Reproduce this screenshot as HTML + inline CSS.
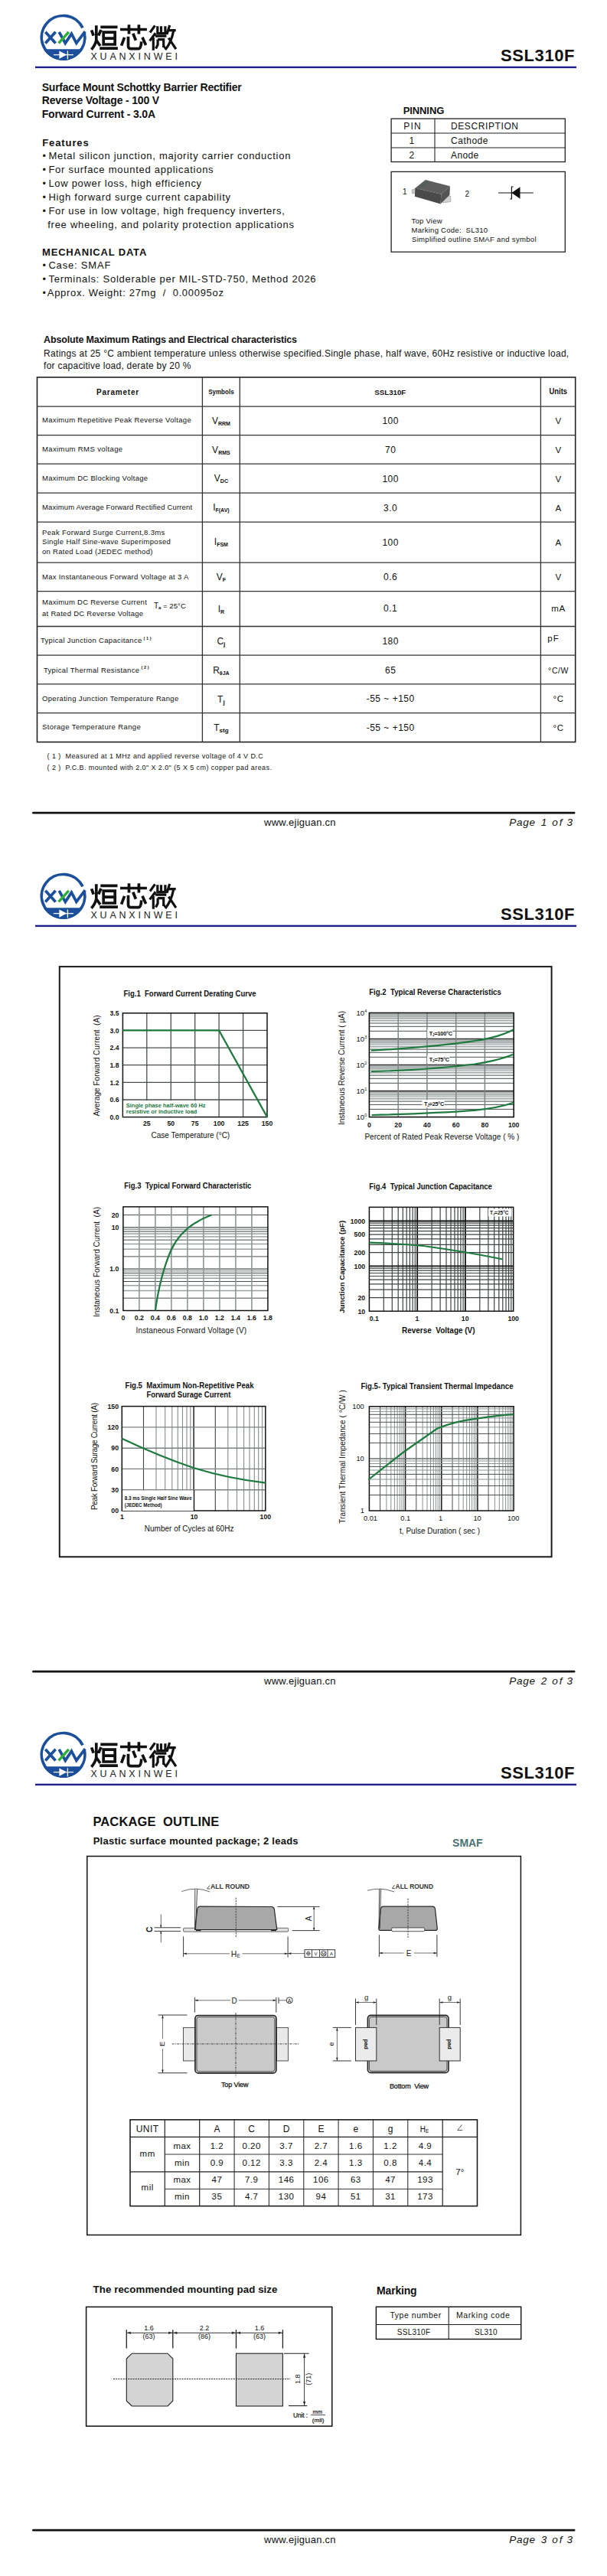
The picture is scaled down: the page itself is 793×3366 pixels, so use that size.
<!DOCTYPE html>
<html><head><meta charset="utf-8"><style>
html,body{margin:0;padding:0;background:#fff;}
svg{display:block;}
text{font-family:"Liberation Sans",sans-serif;}
</style></head><body>
<svg width="793" height="3366" viewBox="0 0 793 3366">
<rect x="0" y="0" width="793" height="3366" fill="#fff"/>
<g transform="translate(0,0)">
<path d="M110.28,42.92 A28.3,28.3 0 1 1 108.04,36.39" stroke="#1b4f9c" stroke-width="3.6" fill="none"/>
<path d="M56.80,64.3 A30.1,30.1 0 0 0 108.40,64.3 Z" fill="#1b4f9c"/>
<line x1="69.9" y1="71.6" x2="95.9" y2="71.6" stroke="#fff" stroke-width="1.3"/>
<path d="M77.4,66.6 L87.2,71.6 L77.4,76.8 Z" fill="#fff"/>
<line x1="88.4" y1="66.4" x2="88.4" y2="77.2" stroke="#fff" stroke-width="1.3"/>
<path d="M59.3,41.8 L72.6,56.4 M72.6,41.8 L59.3,56.4" stroke="#1b4f9c" stroke-width="3.7" fill="none"/>
<path d="M77.2,41.8 L85.3,56.4 L93.4,44.2 L99.8,56.4 L111.2,41.2" stroke="#1b4f9c" stroke-width="3.7" fill="none" stroke-linejoin="miter"/>
<path d="M89.8,41.8 L76.6,56.4" stroke="#2fae3c" stroke-width="3.5" fill="none"/>
<path d="M119.6,39.3 L122.2,46.6 M125.8,33.2 L125.8,52.5 Q124.5,59 119.4,64.7 M132,39.1 L128.7,46.5 M126.1,53 L131,60 M131.3,35.4 L153.5,35.4 M135.2,42.1 L150.2,42.1 L150.2,58 L135.2,58 Z M135.2,50.2 L150.2,50.2 M130.2,63.2 L153.9,63.2" stroke="#111" stroke-width="3.7" fill="none" stroke-linecap="butt"/>
<path d="M157,38.5 L191.9,38.5 M168.5,32.3 L168.5,44.5 M181.4,32.3 L181.4,44.5 M162.6,48.8 L158.6,59.6 M167.5,47.8 L167.5,60.3 Q167.8,63.6 171,63.6 L181,63.6 Q184.3,63.4 184.7,54.4 M173.8,43.8 L177.4,52.7 M186,48.8 L190.6,59" stroke="#111" stroke-width="3.7" fill="none" stroke-linecap="butt"/>
<path d="M202.5,33.4 L196,42.5 M203.2,43.2 L195.6,53.4 M200.3,49 L200.3,65.7 M205.8,34.2 L205.8,43.6 M210.5,34.2 L210.5,43.6 M215.9,34.2 L215.9,43.6 M204.4,43.6 L217.3,43.6 M202.9,47.2 L217.4,47.2 M206.1,51.6 L213.7,51.6 L213.7,62 M206.1,51.6 L206.1,58.5 L203.5,63.5 M213.7,62 L216,61 M221.7,33.1 L218,44.7 M220.3,39.6 L229.7,39.6 M226.5,41 Q224,55 215.9,65 M220.3,49.7 L229.9,64.2" stroke="#111" stroke-width="3.2" fill="none"/>
<text x="118.4" y="78.0" font-size="12.5" textLength="113.5" lengthAdjust="spacing" fill="#222" font-weight="normal">XUANXINWEI</text>
<rect x="46" y="86.7" width="707" height="2.4" fill="#1f2088"/>
<text x="654.0" y="79.6" font-size="22" font-weight="bold" textLength="96.5" lengthAdjust="spacing" fill="#111">SSL310F</text>
</g>
<g transform="translate(0,0)">
<line x1="43.5" y1="1062.2" x2="750" y2="1062.2" stroke="#111" stroke-width="2.8" stroke-linecap="round"/>
<text x="345.0" y="1079.0" font-size="13" textLength="93.5" lengthAdjust="spacing" fill="#111">www.ejiguan.cn</text>
<text x="665.2" y="1078.5" font-size="13.5" textLength="33.8" lengthAdjust="spacing" font-style="italic" fill="#111">Page</text>
<text x="706.8" y="1078.5" font-size="13.5" font-style="italic" fill="#111">1</text>
<text x="721.2" y="1078.5" font-size="13.5" textLength="13.2" lengthAdjust="spacing" font-style="italic" fill="#111">of</text>
<text x="740.6" y="1078.5" font-size="13.5" font-style="italic" fill="#111">3</text>
</g>
<g transform="translate(0,1122)">
<path d="M110.28,42.92 A28.3,28.3 0 1 1 108.04,36.39" stroke="#1b4f9c" stroke-width="3.6" fill="none"/>
<path d="M56.80,64.3 A30.1,30.1 0 0 0 108.40,64.3 Z" fill="#1b4f9c"/>
<line x1="69.9" y1="71.6" x2="95.9" y2="71.6" stroke="#fff" stroke-width="1.3"/>
<path d="M77.4,66.6 L87.2,71.6 L77.4,76.8 Z" fill="#fff"/>
<line x1="88.4" y1="66.4" x2="88.4" y2="77.2" stroke="#fff" stroke-width="1.3"/>
<path d="M59.3,41.8 L72.6,56.4 M72.6,41.8 L59.3,56.4" stroke="#1b4f9c" stroke-width="3.7" fill="none"/>
<path d="M77.2,41.8 L85.3,56.4 L93.4,44.2 L99.8,56.4 L111.2,41.2" stroke="#1b4f9c" stroke-width="3.7" fill="none" stroke-linejoin="miter"/>
<path d="M89.8,41.8 L76.6,56.4" stroke="#2fae3c" stroke-width="3.5" fill="none"/>
<path d="M119.6,39.3 L122.2,46.6 M125.8,33.2 L125.8,52.5 Q124.5,59 119.4,64.7 M132,39.1 L128.7,46.5 M126.1,53 L131,60 M131.3,35.4 L153.5,35.4 M135.2,42.1 L150.2,42.1 L150.2,58 L135.2,58 Z M135.2,50.2 L150.2,50.2 M130.2,63.2 L153.9,63.2" stroke="#111" stroke-width="3.7" fill="none" stroke-linecap="butt"/>
<path d="M157,38.5 L191.9,38.5 M168.5,32.3 L168.5,44.5 M181.4,32.3 L181.4,44.5 M162.6,48.8 L158.6,59.6 M167.5,47.8 L167.5,60.3 Q167.8,63.6 171,63.6 L181,63.6 Q184.3,63.4 184.7,54.4 M173.8,43.8 L177.4,52.7 M186,48.8 L190.6,59" stroke="#111" stroke-width="3.7" fill="none" stroke-linecap="butt"/>
<path d="M202.5,33.4 L196,42.5 M203.2,43.2 L195.6,53.4 M200.3,49 L200.3,65.7 M205.8,34.2 L205.8,43.6 M210.5,34.2 L210.5,43.6 M215.9,34.2 L215.9,43.6 M204.4,43.6 L217.3,43.6 M202.9,47.2 L217.4,47.2 M206.1,51.6 L213.7,51.6 L213.7,62 M206.1,51.6 L206.1,58.5 L203.5,63.5 M213.7,62 L216,61 M221.7,33.1 L218,44.7 M220.3,39.6 L229.7,39.6 M226.5,41 Q224,55 215.9,65 M220.3,49.7 L229.9,64.2" stroke="#111" stroke-width="3.2" fill="none"/>
<text x="118.4" y="78.0" font-size="12.5" textLength="113.5" lengthAdjust="spacing" fill="#222" font-weight="normal">XUANXINWEI</text>
<rect x="46" y="86.7" width="707" height="2.4" fill="#1f2088"/>
<text x="654.0" y="79.6" font-size="22" font-weight="bold" textLength="96.5" lengthAdjust="spacing" fill="#111">SSL310F</text>
</g>
<g transform="translate(0,1122)">
<line x1="43.5" y1="1062.2" x2="750" y2="1062.2" stroke="#111" stroke-width="2.8" stroke-linecap="round"/>
<text x="345.0" y="1079.0" font-size="13" textLength="93.5" lengthAdjust="spacing" fill="#111">www.ejiguan.cn</text>
<text x="665.2" y="1078.5" font-size="13.5" textLength="33.8" lengthAdjust="spacing" font-style="italic" fill="#111">Page</text>
<text x="706.8" y="1078.5" font-size="13.5" font-style="italic" fill="#111">2</text>
<text x="721.2" y="1078.5" font-size="13.5" textLength="13.2" lengthAdjust="spacing" font-style="italic" fill="#111">of</text>
<text x="740.6" y="1078.5" font-size="13.5" font-style="italic" fill="#111">3</text>
</g>
<g transform="translate(0,2244)">
<path d="M110.28,42.92 A28.3,28.3 0 1 1 108.04,36.39" stroke="#1b4f9c" stroke-width="3.6" fill="none"/>
<path d="M56.80,64.3 A30.1,30.1 0 0 0 108.40,64.3 Z" fill="#1b4f9c"/>
<line x1="69.9" y1="71.6" x2="95.9" y2="71.6" stroke="#fff" stroke-width="1.3"/>
<path d="M77.4,66.6 L87.2,71.6 L77.4,76.8 Z" fill="#fff"/>
<line x1="88.4" y1="66.4" x2="88.4" y2="77.2" stroke="#fff" stroke-width="1.3"/>
<path d="M59.3,41.8 L72.6,56.4 M72.6,41.8 L59.3,56.4" stroke="#1b4f9c" stroke-width="3.7" fill="none"/>
<path d="M77.2,41.8 L85.3,56.4 L93.4,44.2 L99.8,56.4 L111.2,41.2" stroke="#1b4f9c" stroke-width="3.7" fill="none" stroke-linejoin="miter"/>
<path d="M89.8,41.8 L76.6,56.4" stroke="#2fae3c" stroke-width="3.5" fill="none"/>
<path d="M119.6,39.3 L122.2,46.6 M125.8,33.2 L125.8,52.5 Q124.5,59 119.4,64.7 M132,39.1 L128.7,46.5 M126.1,53 L131,60 M131.3,35.4 L153.5,35.4 M135.2,42.1 L150.2,42.1 L150.2,58 L135.2,58 Z M135.2,50.2 L150.2,50.2 M130.2,63.2 L153.9,63.2" stroke="#111" stroke-width="3.7" fill="none" stroke-linecap="butt"/>
<path d="M157,38.5 L191.9,38.5 M168.5,32.3 L168.5,44.5 M181.4,32.3 L181.4,44.5 M162.6,48.8 L158.6,59.6 M167.5,47.8 L167.5,60.3 Q167.8,63.6 171,63.6 L181,63.6 Q184.3,63.4 184.7,54.4 M173.8,43.8 L177.4,52.7 M186,48.8 L190.6,59" stroke="#111" stroke-width="3.7" fill="none" stroke-linecap="butt"/>
<path d="M202.5,33.4 L196,42.5 M203.2,43.2 L195.6,53.4 M200.3,49 L200.3,65.7 M205.8,34.2 L205.8,43.6 M210.5,34.2 L210.5,43.6 M215.9,34.2 L215.9,43.6 M204.4,43.6 L217.3,43.6 M202.9,47.2 L217.4,47.2 M206.1,51.6 L213.7,51.6 L213.7,62 M206.1,51.6 L206.1,58.5 L203.5,63.5 M213.7,62 L216,61 M221.7,33.1 L218,44.7 M220.3,39.6 L229.7,39.6 M226.5,41 Q224,55 215.9,65 M220.3,49.7 L229.9,64.2" stroke="#111" stroke-width="3.2" fill="none"/>
<text x="118.4" y="78.0" font-size="12.5" textLength="113.5" lengthAdjust="spacing" fill="#222" font-weight="normal">XUANXINWEI</text>
<rect x="46" y="86.7" width="707" height="2.4" fill="#1f2088"/>
<text x="654.0" y="79.6" font-size="22" font-weight="bold" textLength="96.5" lengthAdjust="spacing" fill="#111">SSL310F</text>
</g>
<g transform="translate(0,2244)">
<line x1="43.5" y1="1062.2" x2="750" y2="1062.2" stroke="#111" stroke-width="2.8" stroke-linecap="round"/>
<text x="345.0" y="1079.0" font-size="13" textLength="93.5" lengthAdjust="spacing" fill="#111">www.ejiguan.cn</text>
<text x="665.2" y="1078.5" font-size="13.5" textLength="33.8" lengthAdjust="spacing" font-style="italic" fill="#111">Page</text>
<text x="706.8" y="1078.5" font-size="13.5" font-style="italic" fill="#111">3</text>
<text x="721.2" y="1078.5" font-size="13.5" textLength="13.2" lengthAdjust="spacing" font-style="italic" fill="#111">of</text>
<text x="740.6" y="1078.5" font-size="13.5" font-style="italic" fill="#111">3</text>
</g>
<text x="54.7" y="118.7" font-size="14" font-weight="bold" textLength="261.0" lengthAdjust="spacing" fill="#111">Surface Mount Schottky Barrier Rectifier</text>
<text x="54.7" y="136.2" font-size="14" font-weight="bold" textLength="153.5" lengthAdjust="spacing" fill="#111">Reverse Voltage - 100 V</text>
<text x="54.7" y="154.0" font-size="14" font-weight="bold" textLength="148.3" lengthAdjust="spacing" fill="#111">Forward Current - 3.0A</text>
<text x="55.2" y="191.0" font-size="13" font-weight="bold" textLength="60.5" lengthAdjust="spacing" fill="#111">Features</text>
<text x="55.5" y="207.8" font-size="12.5" fill="#111">•</text>
<text x="63.4" y="207.8" font-size="13" textLength="316.0" lengthAdjust="spacing" fill="#111">Metal silicon junction, majority carrier conduction</text>
<text x="55.5" y="225.8" font-size="12.5" fill="#111">•</text>
<text x="63.4" y="225.8" font-size="13" textLength="215.2" lengthAdjust="spacing" fill="#111">For surface mounted applications</text>
<text x="55.5" y="243.8" font-size="12.5" fill="#111">•</text>
<text x="63.4" y="243.8" font-size="13" textLength="199.7" lengthAdjust="spacing" fill="#111">Low power loss, high efficiency</text>
<text x="55.5" y="261.8" font-size="12.5" fill="#111">•</text>
<text x="63.4" y="261.8" font-size="13" textLength="237.6" lengthAdjust="spacing" fill="#111">High forward surge current capability</text>
<text x="55.5" y="279.8" font-size="12.5" fill="#111">•</text>
<text x="63.4" y="279.8" font-size="13" textLength="308.4" lengthAdjust="spacing" fill="#111">For use in low voltage, high frequency inverters,</text>
<text x="62.2" y="298.0" font-size="13" textLength="321.8" lengthAdjust="spacing" fill="#111">free wheeling, and polarity protection applications</text>
<text x="55.0" y="334.0" font-size="13" font-weight="bold" textLength="136.3" lengthAdjust="spacing" fill="#111">MECHANICAL DATA</text>
<text x="55.5" y="350.8" font-size="12.5" fill="#111">•</text>
<text x="63.4" y="350.8" font-size="13" textLength="81.0" lengthAdjust="spacing" fill="#111">Case: SMAF</text>
<text x="55.5" y="368.7" font-size="12.5" fill="#111">•</text>
<text x="63.4" y="368.7" font-size="13" textLength="349.2" lengthAdjust="spacing" fill="#111">Terminals: Solderable per MIL-STD-750, Method 2026</text>
<text x="55.5" y="386.6" font-size="12.5" fill="#111">•</text>
<text x="61.8" y="386.6" font-size="13" textLength="230.1" lengthAdjust="spacing" fill="#111">Approx. Weight: 27mg&#160;&#160;/&#160;&#160;0.00095oz</text>
<text x="526.7" y="148.5" font-size="13" font-weight="bold" textLength="53.6" lengthAdjust="spacing" fill="#111">PINNING</text>
<rect x="511.1" y="155.1" width="227.2" height="56.4" stroke="#222" stroke-width="1.3" fill="none" />
<line x1="511.1" y1="174.0" x2="738.3" y2="174.0" stroke="#222" stroke-width="1.1" />
<line x1="511.1" y1="193.0" x2="738.3" y2="193.0" stroke="#222" stroke-width="1.1" />
<line x1="568.0" y1="155.1" x2="568.0" y2="211.5" stroke="#222" stroke-width="1.1" />
<text x="527.2" y="169.0" font-size="12" textLength="22.5" lengthAdjust="spacing" fill="#111">PIN</text>
<text x="589.0" y="169.0" font-size="12" textLength="88.0" lengthAdjust="spacing" fill="#111">DESCRIPTION</text>
<text x="534.5" y="188.0" font-size="12" fill="#111">1</text>
<text x="589.0" y="188.0" font-size="12" textLength="48.5" lengthAdjust="spacing" fill="#111">Cathode</text>
<text x="534.5" y="206.5" font-size="12" fill="#111">2</text>
<text x="589.0" y="206.5" font-size="12" textLength="36.3" lengthAdjust="spacing" fill="#111">Anode</text>
<rect x="511.1" y="224.4" width="227.2" height="104.8" stroke="#222" stroke-width="1.3" fill="none" />
<text x="526.0" y="254.0" font-size="10" fill="#111">1</text>
<text x="607.5" y="257.0" font-size="10" fill="#111">2</text>
<text x="537.6" y="292.1" font-size="9.5" textLength="40.0" lengthAdjust="spacing" fill="#111">Top View</text>
<text x="537.6" y="304.2" font-size="9.5" textLength="99.5" lengthAdjust="spacing" fill="#111">Marking Code:&#160; SL310</text>
<text x="538.0" y="316.3" font-size="9.5" textLength="162.5" lengthAdjust="spacing" fill="#111">Simplified outline SMAF and symbol</text>
<path d="M538,248 L543,246.5 L543.5,252.5 L538.5,253 Z" fill="#c8c8c8" stroke="#999" stroke-width="0.6"/>
<path d="M578,256.5 L588.5,256 L589,263.5 L578.5,265 Z" fill="#d0d0d0" stroke="#999" stroke-width="0.6"/>
<path d="M555.8,234.9 L587.9,243.3 L576.5,253.7 L542.4,245.8 Z" fill="#5e5e5e"/>
<path d="M542.4,245.8 L576.5,253.7 L575.5,266.6 L541.9,256.7 Z" fill="#4a4a4a"/>
<path d="M576.5,253.7 L587.9,243.3 L587.4,254.7 L575.5,266.6 Z" fill="#545454"/>
<path d="M557,237 L545.5,246.5 M559.5,237.6 L548,247.2" stroke="#3e5e52" stroke-width="0.7"/>
<line x1="651.0" y1="252.0" x2="696.8" y2="252.0" stroke="#111" stroke-width="1.2" />
<path d="M668.4,252 L679.5,244.2 L679.5,259.8 Z" fill="#111"/>
<path d="M670.6,244 L668.4,244 L668.4,260 L666.3,260" stroke="#111" stroke-width="1.2" fill="none"/>
<text x="57.1" y="448.0" font-size="12.5" font-weight="bold" textLength="330.9" lengthAdjust="spacing" fill="#111">Absolute Maximum Ratings and Electrical characteristics</text>
<text x="57.1" y="466.2" font-size="12" textLength="686.1" lengthAdjust="spacing" fill="#111">Ratings at 25 °C ambient temperature unless otherwise specified.Single phase, half wave, 60Hz resistive or inductive load,</text>
<text x="57.1" y="481.7" font-size="12" textLength="192.3" lengthAdjust="spacing" fill="#111">for capacitive load, derate by 20 %</text>
<rect x="48.5" y="493.0" width="703.2" height="476.6" stroke="#222" stroke-width="1.6" fill="none" />
<line x1="48.5" y1="531.2" x2="751.7" y2="531.2" stroke="#333" stroke-width="1.3" />
<line x1="48.5" y1="568.6" x2="751.7" y2="568.6" stroke="#333" stroke-width="1.3" />
<line x1="48.5" y1="606.2" x2="751.7" y2="606.2" stroke="#333" stroke-width="1.3" />
<line x1="48.5" y1="644.2" x2="751.7" y2="644.2" stroke="#333" stroke-width="1.3" />
<line x1="48.5" y1="682.2" x2="751.7" y2="682.2" stroke="#333" stroke-width="1.3" />
<line x1="48.5" y1="735.2" x2="751.7" y2="735.2" stroke="#333" stroke-width="1.3" />
<line x1="48.5" y1="772.6" x2="751.7" y2="772.6" stroke="#333" stroke-width="1.3" />
<line x1="48.5" y1="818.5" x2="751.7" y2="818.5" stroke="#333" stroke-width="1.3" />
<line x1="48.5" y1="856.2" x2="751.7" y2="856.2" stroke="#333" stroke-width="1.3" />
<line x1="48.5" y1="893.9" x2="751.7" y2="893.9" stroke="#333" stroke-width="1.3" />
<line x1="48.5" y1="931.6" x2="751.7" y2="931.6" stroke="#333" stroke-width="1.3" />
<line x1="264.4" y1="493.0" x2="264.4" y2="969.6" stroke="#333" stroke-width="1.3" />
<line x1="313.3" y1="493.0" x2="313.3" y2="969.6" stroke="#333" stroke-width="1.3" />
<line x1="706.4" y1="493.0" x2="706.4" y2="969.6" stroke="#333" stroke-width="1.3" />
<text x="153.6" y="516.3" font-size="10" font-weight="bold" text-anchor="middle" textLength="55.0" lengthAdjust="spacing" fill="#111">Parameter</text>
<text x="288.9" y="514.8" font-size="9" font-weight="bold" text-anchor="middle" textLength="33.5" lengthAdjust="spacingAndGlyphs" fill="#111">Symbols</text>
<text x="509.8" y="515.9" font-size="9.5" font-weight="bold" text-anchor="middle" textLength="41.0" lengthAdjust="spacingAndGlyphs" fill="#111">SSL310F</text>
<text x="729.3" y="515.4" font-size="10" font-weight="bold" text-anchor="middle" textLength="23.5" lengthAdjust="spacingAndGlyphs" fill="#111">Units</text>
<text x="55.0" y="551.8" font-size="9.5" textLength="194.7" lengthAdjust="spacing" fill="#111">Maximum Repetitive Peak Reverse Voltage</text>
<text x="55.0" y="589.8" font-size="9.5" textLength="105.1" lengthAdjust="spacing" fill="#111">Maximum RMS voltage</text>
<text x="55.0" y="627.8" font-size="9.5" textLength="138.1" lengthAdjust="spacing" fill="#111">Maximum DC Blocking Voltage</text>
<text x="55.0" y="665.8" font-size="9.5" textLength="196.1" lengthAdjust="spacing" fill="#111">Maximum Average Forward Rectified Current</text>
<text x="55.0" y="698.7" font-size="9.5" textLength="160.3" lengthAdjust="spacing" fill="#111">Peak Forward Surge Current,8.3ms</text>
<text x="55.0" y="710.8" font-size="9.5" textLength="167.9" lengthAdjust="spacing" fill="#111">Single Half Sine-wave Superimposed</text>
<text x="55.0" y="723.5" font-size="9.5" textLength="144.4" lengthAdjust="spacing" fill="#111">on Rated Load (JEDEC method)</text>
<text x="55.0" y="756.7" font-size="9.5" textLength="191.4" lengthAdjust="spacing" fill="#111">Max Instantaneous Forward Voltage at 3 A</text>
<text x="55.0" y="790.3" font-size="9.5" textLength="136.8" lengthAdjust="spacing" fill="#111">Maximum DC Reverse Current</text>
<text x="55.0" y="804.7" font-size="9.5" textLength="132.1" lengthAdjust="spacing" fill="#111">at Rated DC Reverse Voltage</text>
<text x="52.9" y="840.3" font-size="9.5" textLength="132.4" lengthAdjust="spacing" fill="#111">Typical Junction Capacitance</text>
<text x="56.9" y="878.5" font-size="9.5" textLength="125.2" lengthAdjust="spacing" fill="#111">Typical Thermal Resistance</text>
<text x="55.0" y="915.8" font-size="9.5" textLength="178.3" lengthAdjust="spacing" fill="#111">Operating Junction Temperature Range</text>
<text x="55.0" y="952.8" font-size="9.5" textLength="128.8" lengthAdjust="spacing" fill="#111">Storage Temperature Range</text>
<text x="187.5" y="836.0" font-size="5.5" font-weight="bold" textLength="10.0" lengthAdjust="spacing" fill="#111">(&#160;1&#160;)</text>
<text x="184.5" y="874.0" font-size="5.5" font-weight="bold" textLength="10.0" lengthAdjust="spacing" fill="#111">(&#160;2&#160;)</text>
<text x="201.0" y="794.6" font-size="10" fill="#111">T</text>
<text x="207.0" y="796.2" font-size="6" font-weight="bold" fill="#111">a</text>
<text x="213.0" y="794.6" font-size="9.5" textLength="29.8" lengthAdjust="spacing" fill="#111">= 25°C</text>
<text x="288.9" y="553.5" text-anchor="middle" fill="#111" font-size="12">V<tspan font-size="7" font-weight="bold" dy="2.2">RRM</tspan></text>
<text x="288.9" y="591.5" text-anchor="middle" fill="#111" font-size="12">V<tspan font-size="7" font-weight="bold" dy="2.2">RMS</tspan></text>
<text x="288.9" y="629.0" text-anchor="middle" fill="#111" font-size="12">V<tspan font-size="7" font-weight="bold" dy="2.2">DC</tspan></text>
<text x="288.9" y="666.5" text-anchor="middle" fill="#111" font-size="12">I<tspan font-size="7" font-weight="bold" dy="2.2">F(AV)</tspan></text>
<text x="288.9" y="712.0" text-anchor="middle" fill="#111" font-size="12">I<tspan font-size="7" font-weight="bold" dy="2.2">FSM</tspan></text>
<text x="288.9" y="757.5" text-anchor="middle" fill="#111" font-size="12">V<tspan font-size="7" font-weight="bold" dy="2.2">F</tspan></text>
<text x="288.9" y="799.5" text-anchor="middle" fill="#111" font-size="12">I<tspan font-size="7" font-weight="bold" dy="2.2">R</tspan></text>
<text x="288.9" y="841.5" text-anchor="middle" fill="#111" font-size="12">C<tspan font-size="8" font-weight="bold" dy="2.2">j</tspan></text>
<text x="288.9" y="879.5" text-anchor="middle" fill="#111" font-size="12">R<tspan font-size="7" font-weight="bold" dy="2.2">θJA</tspan></text>
<text x="288.9" y="917.5" text-anchor="middle" fill="#111" font-size="12">T<tspan font-size="8" font-weight="bold" dy="2.2">j</tspan></text>
<text x="288.9" y="954.5" text-anchor="middle" fill="#111" font-size="12">T<tspan font-size="8" font-weight="bold" dy="2.2">stg</tspan></text>
<text x="510.2" y="553.8" font-size="12" text-anchor="middle" fill="#111" letter-spacing="0.5">100</text>
<text x="729.6" y="553.8" font-size="11.5" text-anchor="middle" fill="#111" letter-spacing="0.6">V</text>
<text x="510.2" y="591.5" font-size="12" text-anchor="middle" fill="#111" letter-spacing="0.5">70</text>
<text x="729.6" y="591.5" font-size="11.5" text-anchor="middle" fill="#111" letter-spacing="0.6">V</text>
<text x="510.2" y="629.6" font-size="12" text-anchor="middle" fill="#111" letter-spacing="0.5">100</text>
<text x="729.6" y="629.6" font-size="11.5" text-anchor="middle" fill="#111" letter-spacing="0.6">V</text>
<text x="510.2" y="667.6" font-size="12" text-anchor="middle" fill="#111" letter-spacing="0.5">3.0</text>
<text x="729.6" y="667.6" font-size="11.5" text-anchor="middle" fill="#111" letter-spacing="0.6">A</text>
<text x="510.2" y="713.0" font-size="12" text-anchor="middle" fill="#111" letter-spacing="0.5">100</text>
<text x="729.6" y="713.0" font-size="11.5" text-anchor="middle" fill="#111" letter-spacing="0.6">A</text>
<text x="510.2" y="758.4" font-size="12" text-anchor="middle" fill="#111" letter-spacing="0.5">0.6</text>
<text x="729.6" y="758.4" font-size="11.5" text-anchor="middle" fill="#111" letter-spacing="0.6">V</text>
<text x="510.2" y="799.4" font-size="12" text-anchor="middle" fill="#111" letter-spacing="0.5">0.1</text>
<text x="729.6" y="799.4" font-size="11.5" text-anchor="middle" fill="#111" letter-spacing="0.6">mA</text>
<text x="510.2" y="841.6" font-size="12" text-anchor="middle" fill="#111" letter-spacing="0.5">180</text>
<text x="510.2" y="879.8" font-size="12" text-anchor="middle" fill="#111" letter-spacing="0.5">65</text>
<text x="729.6" y="879.8" font-size="10.5" text-anchor="middle" fill="#111" letter-spacing="0.6">°C/W</text>
<text x="510.2" y="917.4" font-size="12" text-anchor="middle" fill="#111" letter-spacing="0.5">-55 ~ +150</text>
<text x="729.6" y="917.4" font-size="11.5" text-anchor="middle" fill="#111" letter-spacing="0.6">°C</text>
<text x="510.2" y="954.8" font-size="12" text-anchor="middle" fill="#111" letter-spacing="0.5">-55 ~ +150</text>
<text x="729.6" y="954.8" font-size="11.5" text-anchor="middle" fill="#111" letter-spacing="0.6">°C</text>
<text x="715.3" y="838.3" font-size="11.5" fill="#111" letter-spacing="1">pF</text>
<text x="61.6" y="991.4" font-size="9" textLength="282.1" lengthAdjust="spacing" fill="#111">(&#160;1&#160;)&#160; Measured at 1 MHz and applied reverse voltage of 4 V D.C</text>
<text x="61.6" y="1005.8" font-size="9" textLength="293.3" lengthAdjust="spacing" fill="#111">(&#160;2&#160;)&#160; P.C.B. mounted with 2.0" X 2.0" (5 X 5 cm) copper pad areas.</text>
<rect x="77.8" y="1263.1" width="642.8" height="771.2" stroke="#1a1a1a" stroke-width="2" fill="none" />
<line x1="191.8" y1="1323.8" x2="191.8" y2="1459.6" stroke="#48504d" stroke-width="1.3" />
<line x1="223.3" y1="1323.8" x2="223.3" y2="1459.6" stroke="#48504d" stroke-width="1.3" />
<line x1="254.7" y1="1323.8" x2="254.7" y2="1459.6" stroke="#48504d" stroke-width="1.3" />
<line x1="286.1" y1="1323.8" x2="286.1" y2="1459.6" stroke="#48504d" stroke-width="1.3" />
<line x1="317.6" y1="1323.8" x2="317.6" y2="1459.6" stroke="#48504d" stroke-width="1.3" />
<line x1="160.4" y1="1346.4" x2="349.0" y2="1346.4" stroke="#48504d" stroke-width="1.3" />
<line x1="160.4" y1="1369.1" x2="349.0" y2="1369.1" stroke="#48504d" stroke-width="1.3" />
<line x1="160.4" y1="1391.7" x2="349.0" y2="1391.7" stroke="#48504d" stroke-width="1.3" />
<line x1="160.4" y1="1414.3" x2="349.0" y2="1414.3" stroke="#48504d" stroke-width="1.3" />
<line x1="160.4" y1="1437.0" x2="349.0" y2="1437.0" stroke="#48504d" stroke-width="1.3" />
<rect x="160.4" y="1323.8" width="188.6" height="135.8" stroke="#111" stroke-width="1.5" fill="none" />
<path d="M160.4,1346.4 L286.1,1346.4 L349.0,1459.6" stroke="#1f7a3f" stroke-width="2.2" fill="none" />
<rect x="161.2" y="1438.2" width="94.4" height="20.5" stroke="none" stroke-width="0" fill="#fff" />
<text x="161.5" y="1301.5" font-size="10" font-weight="bold" textLength="173.0" lengthAdjust="spacingAndGlyphs" fill="#111">Fig.1&#160; Forward Current Derating Curve</text>
<text x="155.5" y="1327.0" font-size="8.7" font-weight="bold" text-anchor="end" fill="#111">3.5</text>
<text x="155.5" y="1349.6" font-size="8.7" font-weight="bold" text-anchor="end" fill="#111">3.0</text>
<text x="155.5" y="1372.3" font-size="8.7" font-weight="bold" text-anchor="end" fill="#111">2.4</text>
<text x="155.5" y="1394.9" font-size="8.7" font-weight="bold" text-anchor="end" fill="#111">1.8</text>
<text x="155.5" y="1417.5" font-size="8.7" font-weight="bold" text-anchor="end" fill="#111">1.2</text>
<text x="155.5" y="1440.2" font-size="8.7" font-weight="bold" text-anchor="end" fill="#111">0.6</text>
<text x="155.5" y="1462.8" font-size="8.7" font-weight="bold" text-anchor="end" fill="#111">0.0</text>
<text x="191.8" y="1470.7" font-size="8.7" font-weight="bold" text-anchor="middle" fill="#111">25</text>
<text x="223.3" y="1470.7" font-size="8.7" font-weight="bold" text-anchor="middle" fill="#111">50</text>
<text x="254.7" y="1470.7" font-size="8.7" font-weight="bold" text-anchor="middle" fill="#111">75</text>
<text x="286.1" y="1470.7" font-size="8.7" font-weight="bold" text-anchor="middle" fill="#111">100</text>
<text x="317.6" y="1470.7" font-size="8.7" font-weight="bold" text-anchor="middle" fill="#111">125</text>
<text x="349.0" y="1470.7" font-size="8.7" font-weight="bold" text-anchor="middle" fill="#111">150</text>
<text x="164.8" y="1446.5" font-size="7.5" font-weight="bold" textLength="103.8" lengthAdjust="spacing" fill="#1f7a3f">Single phase half-wave 60 Hz</text>
<text x="164.8" y="1454.9" font-size="7.5" font-weight="bold" textLength="92.6" lengthAdjust="spacing" fill="#1f7a3f">resistive or inductive load</text>
<text x="197.6" y="1487.2" font-size="10" textLength="102.6" lengthAdjust="spacing" fill="#111">Case Temperature (°C)</text>
<text x="0" y="0" font-size="10" text-anchor="middle" fill="#111" transform="translate(129.5,1392.5) rotate(-90)" textLength="132.0" lengthAdjust="spacing">Average Forward Current&#160; (A)</text>
<line x1="482.4" y1="1449.4" x2="671.2" y2="1449.4" stroke="#48504d" stroke-width="1.0" />
<line x1="482.4" y1="1443.4" x2="671.2" y2="1443.4" stroke="#48504d" stroke-width="1.0" />
<line x1="482.4" y1="1439.1" x2="671.2" y2="1439.1" stroke="#48504d" stroke-width="1.0" />
<line x1="482.4" y1="1435.8" x2="671.2" y2="1435.8" stroke="#9aa2a2" stroke-width="1.4" />
<line x1="482.4" y1="1433.1" x2="671.2" y2="1433.1" stroke="#9aa2a2" stroke-width="1.4" />
<line x1="482.4" y1="1430.8" x2="671.2" y2="1430.8" stroke="#9aa2a2" stroke-width="1.4" />
<line x1="482.4" y1="1428.9" x2="671.2" y2="1428.9" stroke="#9aa2a2" stroke-width="1.4" />
<line x1="482.4" y1="1427.1" x2="671.2" y2="1427.1" stroke="#9aa2a2" stroke-width="1.4" />
<line x1="482.4" y1="1415.3" x2="671.2" y2="1415.3" stroke="#48504d" stroke-width="1.0" />
<line x1="482.4" y1="1409.3" x2="671.2" y2="1409.3" stroke="#48504d" stroke-width="1.0" />
<line x1="482.4" y1="1405.1" x2="671.2" y2="1405.1" stroke="#48504d" stroke-width="1.0" />
<line x1="482.4" y1="1401.8" x2="671.2" y2="1401.8" stroke="#9aa2a2" stroke-width="1.4" />
<line x1="482.4" y1="1399.1" x2="671.2" y2="1399.1" stroke="#9aa2a2" stroke-width="1.4" />
<line x1="482.4" y1="1396.8" x2="671.2" y2="1396.8" stroke="#9aa2a2" stroke-width="1.4" />
<line x1="482.4" y1="1394.8" x2="671.2" y2="1394.8" stroke="#9aa2a2" stroke-width="1.4" />
<line x1="482.4" y1="1393.1" x2="671.2" y2="1393.1" stroke="#9aa2a2" stroke-width="1.4" />
<line x1="482.4" y1="1381.3" x2="671.2" y2="1381.3" stroke="#48504d" stroke-width="1.0" />
<line x1="482.4" y1="1375.3" x2="671.2" y2="1375.3" stroke="#48504d" stroke-width="1.0" />
<line x1="482.4" y1="1371.1" x2="671.2" y2="1371.1" stroke="#48504d" stroke-width="1.0" />
<line x1="482.4" y1="1367.8" x2="671.2" y2="1367.8" stroke="#9aa2a2" stroke-width="1.4" />
<line x1="482.4" y1="1365.1" x2="671.2" y2="1365.1" stroke="#9aa2a2" stroke-width="1.4" />
<line x1="482.4" y1="1362.8" x2="671.2" y2="1362.8" stroke="#9aa2a2" stroke-width="1.4" />
<line x1="482.4" y1="1360.8" x2="671.2" y2="1360.8" stroke="#9aa2a2" stroke-width="1.4" />
<line x1="482.4" y1="1359.1" x2="671.2" y2="1359.1" stroke="#9aa2a2" stroke-width="1.4" />
<line x1="482.4" y1="1347.3" x2="671.2" y2="1347.3" stroke="#48504d" stroke-width="1.0" />
<line x1="482.4" y1="1341.3" x2="671.2" y2="1341.3" stroke="#48504d" stroke-width="1.0" />
<line x1="482.4" y1="1337.0" x2="671.2" y2="1337.0" stroke="#48504d" stroke-width="1.0" />
<line x1="482.4" y1="1333.7" x2="671.2" y2="1333.7" stroke="#9aa2a2" stroke-width="1.4" />
<line x1="482.4" y1="1331.0" x2="671.2" y2="1331.0" stroke="#9aa2a2" stroke-width="1.4" />
<line x1="482.4" y1="1328.8" x2="671.2" y2="1328.8" stroke="#9aa2a2" stroke-width="1.4" />
<line x1="482.4" y1="1326.8" x2="671.2" y2="1326.8" stroke="#9aa2a2" stroke-width="1.4" />
<line x1="482.4" y1="1325.1" x2="671.2" y2="1325.1" stroke="#9aa2a2" stroke-width="1.4" />
<line x1="482.4" y1="1425.6" x2="671.2" y2="1425.6" stroke="#333" stroke-width="1.6" />
<line x1="482.4" y1="1391.5" x2="671.2" y2="1391.5" stroke="#333" stroke-width="1.6" />
<line x1="482.4" y1="1357.5" x2="671.2" y2="1357.5" stroke="#333" stroke-width="1.6" />
<line x1="520.2" y1="1323.5" x2="520.2" y2="1459.6" stroke="#7d8685" stroke-width="1.5" />
<line x1="557.9" y1="1323.5" x2="557.9" y2="1459.6" stroke="#7d8685" stroke-width="1.5" />
<line x1="595.7" y1="1323.5" x2="595.7" y2="1459.6" stroke="#7d8685" stroke-width="1.5" />
<line x1="633.4" y1="1323.5" x2="633.4" y2="1459.6" stroke="#7d8685" stroke-width="1.5" />
<rect x="482.4" y="1323.5" width="188.8" height="136.1" stroke="#111" stroke-width="1.6" fill="none" />
<path d="M484.8,1372.7 C530,1370.2 580,1366.2 620,1360.2 C645,1356.2 660,1351.2 671,1345.2" stroke="#1f7a3f" stroke-width="2.2" fill="none" />
<path d="M484.8,1400.0 C530,1399.0 580,1395.5 620,1390.5 C645,1386.5 660,1382.5 671,1377.5" stroke="#1f7a3f" stroke-width="2.2" fill="none" />
<path d="M485.7,1457.0 C530,1455.8 580,1453.8 620,1450.8 C645,1448.3 660,1444.8 671,1440.8" stroke="#1f7a3f" stroke-width="2.2" fill="none" />
<rect x="558.3" y="1345.3" width="33.0" height="10.0" stroke="none" stroke-width="0" fill="#fff" />
<text x="560.8" y="1352.8" font-size="7.3" font-weight="bold" fill="#111" letter-spacing="-0.2">T<tspan font-size="4.5" dy="1">J</tspan><tspan dy="-1">=100°C</tspan></text>
<rect x="558.3" y="1379.3" width="29.0" height="10.0" stroke="none" stroke-width="0" fill="#fff" />
<text x="560.8" y="1386.8" font-size="7.3" font-weight="bold" fill="#111" letter-spacing="-0.2">T<tspan font-size="4.5" dy="1">J</tspan><tspan dy="-1">=75°C</tspan></text>
<rect x="551.5" y="1437.3" width="29.0" height="10.0" stroke="none" stroke-width="0" fill="#fff" />
<text x="554.0" y="1444.8" font-size="7.3" font-weight="bold" fill="#111" letter-spacing="-0.2">T<tspan font-size="4.5" dy="1">J</tspan><tspan dy="-1">=25°C</tspan></text>
<text x="482.2" y="1300.0" font-size="10" font-weight="bold" textLength="172.6" lengthAdjust="spacingAndGlyphs" fill="#111">Fig.2&#160; Typical Reverse Characteristics</text>
<text x="465.4" y="1463.1" font-size="9.5" fill="#111">10<tspan font-size="5.5" dy="-4.2" dx="0.2">0</tspan></text>
<text x="465.4" y="1429.1" font-size="9.5" fill="#111">10<tspan font-size="5.5" dy="-4.2" dx="0.2">1</tspan></text>
<text x="465.4" y="1395.0" font-size="9.5" fill="#111">10<tspan font-size="5.5" dy="-4.2" dx="0.2">2</tspan></text>
<text x="465.4" y="1361.0" font-size="9.5" fill="#111">10<tspan font-size="5.5" dy="-4.2" dx="0.2">3</tspan></text>
<text x="465.4" y="1327.0" font-size="9.5" fill="#111">10<tspan font-size="5.5" dy="-4.2" dx="0.2">4</tspan></text>
<text x="482.4" y="1473.4" font-size="8.7" font-weight="bold" text-anchor="middle" fill="#111">0</text>
<text x="520.2" y="1473.4" font-size="8.7" font-weight="bold" text-anchor="middle" fill="#111">20</text>
<text x="557.9" y="1473.4" font-size="8.7" font-weight="bold" text-anchor="middle" fill="#111">40</text>
<text x="595.7" y="1473.4" font-size="8.7" font-weight="bold" text-anchor="middle" fill="#111">60</text>
<text x="633.4" y="1473.4" font-size="8.7" font-weight="bold" text-anchor="middle" fill="#111">80</text>
<text x="671.2" y="1473.4" font-size="8.7" font-weight="bold" text-anchor="middle" fill="#111">100</text>
<text x="476.4" y="1488.8" font-size="10" textLength="202.0" lengthAdjust="spacing" fill="#111">Percent of Rated Peak Reverse Voltage ( % )</text>
<text x="0" y="0" font-size="10" text-anchor="middle" fill="#111" transform="translate(450.0,1395.5) rotate(-90)" textLength="149.0" lengthAdjust="spacing">Instaneous Reverse Current ( μA)</text>
<line x1="160.9" y1="1696.2" x2="349.9" y2="1696.2" stroke="#48504d" stroke-width="1.0" />
<line x1="160.9" y1="1686.6" x2="349.9" y2="1686.6" stroke="#9aa2a2" stroke-width="1.5" />
<line x1="160.9" y1="1679.8" x2="349.9" y2="1679.8" stroke="#9aa2a2" stroke-width="1.5" />
<line x1="160.9" y1="1674.5" x2="349.9" y2="1674.5" stroke="#48504d" stroke-width="1.0" />
<line x1="160.9" y1="1670.2" x2="349.9" y2="1670.2" stroke="#9aa2a2" stroke-width="1.5" />
<line x1="160.9" y1="1666.6" x2="349.9" y2="1666.6" stroke="#9aa2a2" stroke-width="1.5" />
<line x1="160.9" y1="1663.5" x2="349.9" y2="1663.5" stroke="#48504d" stroke-width="1.0" />
<line x1="160.9" y1="1660.7" x2="349.9" y2="1660.7" stroke="#9aa2a2" stroke-width="1.5" />
<line x1="160.9" y1="1641.9" x2="349.9" y2="1641.9" stroke="#48504d" stroke-width="1.0" />
<line x1="160.9" y1="1632.3" x2="349.9" y2="1632.3" stroke="#9aa2a2" stroke-width="1.5" />
<line x1="160.9" y1="1625.5" x2="349.9" y2="1625.5" stroke="#9aa2a2" stroke-width="1.5" />
<line x1="160.9" y1="1620.2" x2="349.9" y2="1620.2" stroke="#48504d" stroke-width="1.0" />
<line x1="160.9" y1="1615.9" x2="349.9" y2="1615.9" stroke="#9aa2a2" stroke-width="1.5" />
<line x1="160.9" y1="1612.3" x2="349.9" y2="1612.3" stroke="#9aa2a2" stroke-width="1.5" />
<line x1="160.9" y1="1609.2" x2="349.9" y2="1609.2" stroke="#48504d" stroke-width="1.0" />
<line x1="160.9" y1="1606.4" x2="349.9" y2="1606.4" stroke="#9aa2a2" stroke-width="1.5" />
<line x1="160.9" y1="1658.2" x2="349.9" y2="1658.2" stroke="#48504d" stroke-width="1.3" />
<line x1="160.9" y1="1603.9" x2="349.9" y2="1603.9" stroke="#48504d" stroke-width="1.3" />
<line x1="160.9" y1="1587.6" x2="349.9" y2="1587.6" stroke="#48504d" stroke-width="1.0" />
<line x1="181.9" y1="1576.9" x2="181.9" y2="1712.5" stroke="#8d9696" stroke-width="1.6" />
<line x1="202.9" y1="1576.9" x2="202.9" y2="1712.5" stroke="#8d9696" stroke-width="1.6" />
<line x1="223.9" y1="1576.9" x2="223.9" y2="1712.5" stroke="#8d9696" stroke-width="1.6" />
<line x1="244.9" y1="1576.9" x2="244.9" y2="1712.5" stroke="#8d9696" stroke-width="1.6" />
<line x1="265.9" y1="1576.9" x2="265.9" y2="1712.5" stroke="#8d9696" stroke-width="1.6" />
<line x1="286.9" y1="1576.9" x2="286.9" y2="1712.5" stroke="#8d9696" stroke-width="1.6" />
<line x1="307.9" y1="1576.9" x2="307.9" y2="1712.5" stroke="#8d9696" stroke-width="1.6" />
<line x1="328.9" y1="1576.9" x2="328.9" y2="1712.5" stroke="#8d9696" stroke-width="1.6" />
<rect x="160.9" y="1576.9" width="189.0" height="135.6" stroke="#111" stroke-width="1.5" fill="none" />
<path d="M202.9,1712.5 C206,1690 212,1660 223.5,1633.5 C232,1615 248,1598 276.4,1587.5" stroke="#1f7a3f" stroke-width="2.2" fill="none" />
<text x="162.2" y="1553.0" font-size="10" font-weight="bold" textLength="166.2" lengthAdjust="spacingAndGlyphs" fill="#111">Fig.3&#160; Typical Forward Characteristic</text>
<text x="155.3" y="1590.8" font-size="8.7" font-weight="bold" text-anchor="end" fill="#111">20</text>
<text x="155.3" y="1607.1" font-size="8.7" font-weight="bold" text-anchor="end" fill="#111">10</text>
<text x="155.3" y="1661.4" font-size="8.7" font-weight="bold" text-anchor="end" fill="#111">1.0</text>
<text x="155.3" y="1715.7" font-size="8.7" font-weight="bold" text-anchor="end" fill="#111">0.1</text>
<text x="160.9" y="1725.0" font-size="8.7" font-weight="bold" text-anchor="middle" fill="#111">0</text>
<text x="181.9" y="1725.0" font-size="8.7" font-weight="bold" text-anchor="middle" fill="#111">0.2</text>
<text x="202.9" y="1725.0" font-size="8.7" font-weight="bold" text-anchor="middle" fill="#111">0.4</text>
<text x="223.9" y="1725.0" font-size="8.7" font-weight="bold" text-anchor="middle" fill="#111">0.6</text>
<text x="244.9" y="1725.0" font-size="8.7" font-weight="bold" text-anchor="middle" fill="#111">0.8</text>
<text x="265.9" y="1725.0" font-size="8.7" font-weight="bold" text-anchor="middle" fill="#111">1.0</text>
<text x="286.9" y="1725.0" font-size="8.7" font-weight="bold" text-anchor="middle" fill="#111">1.2</text>
<text x="307.9" y="1725.0" font-size="8.7" font-weight="bold" text-anchor="middle" fill="#111">1.4</text>
<text x="328.9" y="1725.0" font-size="8.7" font-weight="bold" text-anchor="middle" fill="#111">1.6</text>
<text x="349.9" y="1725.0" font-size="8.7" font-weight="bold" text-anchor="middle" fill="#111">1.8</text>
<text x="177.6" y="1742.2" font-size="10" textLength="144.6" lengthAdjust="spacing" fill="#111">Instaneous Forward Voltage (V)</text>
<text x="0" y="0" font-size="10" text-anchor="middle" fill="#111" transform="translate(129.5,1649.0) rotate(-90)" textLength="144.0" lengthAdjust="spacing">Instaneous Forward Current&#160; (A)</text>
<line x1="501.3" y1="1577.4" x2="501.3" y2="1713.3" stroke="#3d4442" stroke-width="1.2" />
<line x1="512.3" y1="1577.4" x2="512.3" y2="1713.3" stroke="#3d4442" stroke-width="1.2" />
<line x1="520.2" y1="1577.4" x2="520.2" y2="1713.3" stroke="#3d4442" stroke-width="1.2" />
<line x1="526.3" y1="1577.4" x2="526.3" y2="1713.3" stroke="#3d4442" stroke-width="1.2" />
<line x1="531.2" y1="1577.4" x2="531.2" y2="1713.3" stroke="#3d4442" stroke-width="1.2" />
<line x1="535.4" y1="1577.4" x2="535.4" y2="1713.3" stroke="#3d4442" stroke-width="1.2" />
<line x1="539.1" y1="1577.4" x2="539.1" y2="1713.3" stroke="#3d4442" stroke-width="1.2" />
<line x1="542.3" y1="1577.4" x2="542.3" y2="1713.3" stroke="#3d4442" stroke-width="1.2" />
<line x1="564.1" y1="1577.4" x2="564.1" y2="1713.3" stroke="#3d4442" stroke-width="1.2" />
<line x1="575.1" y1="1577.4" x2="575.1" y2="1713.3" stroke="#3d4442" stroke-width="1.2" />
<line x1="583.0" y1="1577.4" x2="583.0" y2="1713.3" stroke="#3d4442" stroke-width="1.2" />
<line x1="589.0" y1="1577.4" x2="589.0" y2="1713.3" stroke="#3d4442" stroke-width="1.2" />
<line x1="594.0" y1="1577.4" x2="594.0" y2="1713.3" stroke="#3d4442" stroke-width="1.2" />
<line x1="598.2" y1="1577.4" x2="598.2" y2="1713.3" stroke="#3d4442" stroke-width="1.2" />
<line x1="601.9" y1="1577.4" x2="601.9" y2="1713.3" stroke="#3d4442" stroke-width="1.2" />
<line x1="605.1" y1="1577.4" x2="605.1" y2="1713.3" stroke="#3d4442" stroke-width="1.2" />
<line x1="626.8" y1="1577.4" x2="626.8" y2="1713.3" stroke="#3d4442" stroke-width="1.2" />
<line x1="637.9" y1="1577.4" x2="637.9" y2="1713.3" stroke="#3d4442" stroke-width="1.2" />
<line x1="645.7" y1="1577.4" x2="645.7" y2="1713.3" stroke="#3d4442" stroke-width="1.2" />
<line x1="651.8" y1="1577.4" x2="651.8" y2="1713.3" stroke="#3d4442" stroke-width="1.2" />
<line x1="656.8" y1="1577.4" x2="656.8" y2="1713.3" stroke="#3d4442" stroke-width="1.2" />
<line x1="661.0" y1="1577.4" x2="661.0" y2="1713.3" stroke="#3d4442" stroke-width="1.2" />
<line x1="664.6" y1="1577.4" x2="664.6" y2="1713.3" stroke="#3d4442" stroke-width="1.2" />
<line x1="667.8" y1="1577.4" x2="667.8" y2="1713.3" stroke="#3d4442" stroke-width="1.2" />
<line x1="545.2" y1="1577.4" x2="545.2" y2="1713.3" stroke="#111" stroke-width="1.8" />
<line x1="607.9" y1="1577.4" x2="607.9" y2="1713.3" stroke="#111" stroke-width="1.8" />
<line x1="482.4" y1="1695.6" x2="670.7" y2="1695.6" stroke="#3d4442" stroke-width="1.2" />
<line x1="482.4" y1="1685.2" x2="670.7" y2="1685.2" stroke="#3d4442" stroke-width="1.2" />
<line x1="482.4" y1="1677.8" x2="670.7" y2="1677.8" stroke="#3d4442" stroke-width="1.2" />
<line x1="482.4" y1="1672.1" x2="670.7" y2="1672.1" stroke="#3d4442" stroke-width="1.2" />
<line x1="482.4" y1="1667.5" x2="670.7" y2="1667.5" stroke="#3d4442" stroke-width="1.2" />
<line x1="482.4" y1="1663.5" x2="670.7" y2="1663.5" stroke="#3d4442" stroke-width="1.2" />
<line x1="482.4" y1="1660.1" x2="670.7" y2="1660.1" stroke="#3d4442" stroke-width="1.2" />
<line x1="482.4" y1="1657.1" x2="670.7" y2="1657.1" stroke="#3d4442" stroke-width="1.2" />
<line x1="482.4" y1="1636.7" x2="670.7" y2="1636.7" stroke="#3d4442" stroke-width="1.2" />
<line x1="482.4" y1="1626.3" x2="670.7" y2="1626.3" stroke="#3d4442" stroke-width="1.2" />
<line x1="482.4" y1="1618.9" x2="670.7" y2="1618.9" stroke="#3d4442" stroke-width="1.2" />
<line x1="482.4" y1="1613.2" x2="670.7" y2="1613.2" stroke="#3d4442" stroke-width="1.2" />
<line x1="482.4" y1="1608.6" x2="670.7" y2="1608.6" stroke="#3d4442" stroke-width="1.2" />
<line x1="482.4" y1="1604.6" x2="670.7" y2="1604.6" stroke="#3d4442" stroke-width="1.2" />
<line x1="482.4" y1="1601.2" x2="670.7" y2="1601.2" stroke="#3d4442" stroke-width="1.2" />
<line x1="482.4" y1="1598.2" x2="670.7" y2="1598.2" stroke="#3d4442" stroke-width="1.2" />
<line x1="482.4" y1="1654.4" x2="670.7" y2="1654.4" stroke="#111" stroke-width="1.8" />
<line x1="482.4" y1="1595.5" x2="670.7" y2="1595.5" stroke="#111" stroke-width="1.8" />
<rect x="482.4" y="1577.4" width="188.3" height="135.9" stroke="#111" stroke-width="1.5" fill="none" />
<rect x="638.0" y="1579.5" width="30.0" height="10.0" stroke="none" stroke-width="0" fill="#fff" />
<text x="639.9" y="1587.0" font-size="6.5" font-weight="bold" fill="#111">T<tspan font-size="4" dy="1">J</tspan><tspan dy="-1">=25°C</tspan></text>
<path d="M482.4,1623.7 C520,1625 540,1626 560,1629 C590,1633 620,1638 657,1645.5" stroke="#1f7a3f" stroke-width="2.2" fill="none" />
<text x="482.2" y="1554.3" font-size="10" font-weight="bold" textLength="160.6" lengthAdjust="spacingAndGlyphs" fill="#111">Fig.4&#160; Typical Junction Capacitance</text>
<text x="477.1" y="1598.7" font-size="8.7" font-weight="bold" text-anchor="end" fill="#111">1000</text>
<text x="477.1" y="1616.4" font-size="8.7" font-weight="bold" text-anchor="end" fill="#111">500</text>
<text x="477.1" y="1639.9" font-size="8.7" font-weight="bold" text-anchor="end" fill="#111">200</text>
<text x="477.1" y="1657.6" font-size="8.7" font-weight="bold" text-anchor="end" fill="#111">100</text>
<text x="477.1" y="1698.8" font-size="8.7" font-weight="bold" text-anchor="end" fill="#111">20</text>
<text x="477.1" y="1716.5" font-size="8.7" font-weight="bold" text-anchor="end" fill="#111">10</text>
<text x="488.7" y="1725.6" font-size="8.7" font-weight="bold" text-anchor="middle" fill="#111">0.1</text>
<text x="544.8" y="1725.6" font-size="8.7" font-weight="bold" text-anchor="middle" fill="#111">1</text>
<text x="607.7" y="1725.6" font-size="8.7" font-weight="bold" text-anchor="middle" fill="#111">10</text>
<text x="670.7" y="1725.6" font-size="8.7" font-weight="bold" text-anchor="middle" fill="#111">100</text>
<text x="525.0" y="1741.9" font-size="10" font-weight="bold" textLength="95.6" lengthAdjust="spacing" fill="#111">Reverse&#160; Voltage (V)</text>
<text x="0" y="0" font-size="9.6" text-anchor="middle" fill="#111" transform="translate(450.2,1655.3) rotate(-90)" font-weight="bold" textLength="121.0" lengthAdjust="spacing">Junction Capacitance (pF)</text>
<line x1="187.5" y1="1837.6" x2="187.5" y2="1974.0" stroke="#3d4442" stroke-width="1.1" />
<line x1="204.0" y1="1837.6" x2="204.0" y2="1974.0" stroke="#858c8b" stroke-width="1.1" />
<line x1="215.7" y1="1837.6" x2="215.7" y2="1974.0" stroke="#858c8b" stroke-width="1.1" />
<line x1="224.8" y1="1837.6" x2="224.8" y2="1974.0" stroke="#858c8b" stroke-width="1.1" />
<line x1="232.3" y1="1837.6" x2="232.3" y2="1974.0" stroke="#858c8b" stroke-width="1.1" />
<line x1="238.5" y1="1837.6" x2="238.5" y2="1974.0" stroke="#858c8b" stroke-width="1.1" />
<line x1="244.0" y1="1837.6" x2="244.0" y2="1974.0" stroke="#858c8b" stroke-width="1.1" />
<line x1="248.8" y1="1837.6" x2="248.8" y2="1974.0" stroke="#858c8b" stroke-width="1.1" />
<line x1="281.3" y1="1837.6" x2="281.3" y2="1974.0" stroke="#3d4442" stroke-width="1.1" />
<line x1="297.8" y1="1837.6" x2="297.8" y2="1974.0" stroke="#858c8b" stroke-width="1.1" />
<line x1="309.5" y1="1837.6" x2="309.5" y2="1974.0" stroke="#858c8b" stroke-width="1.1" />
<line x1="318.6" y1="1837.6" x2="318.6" y2="1974.0" stroke="#858c8b" stroke-width="1.1" />
<line x1="326.0" y1="1837.6" x2="326.0" y2="1974.0" stroke="#858c8b" stroke-width="1.1" />
<line x1="332.3" y1="1837.6" x2="332.3" y2="1974.0" stroke="#858c8b" stroke-width="1.1" />
<line x1="337.7" y1="1837.6" x2="337.7" y2="1974.0" stroke="#858c8b" stroke-width="1.1" />
<line x1="342.5" y1="1837.6" x2="342.5" y2="1974.0" stroke="#858c8b" stroke-width="1.1" />
<line x1="253.1" y1="1837.6" x2="346.8" y2="1837.6" stroke="#222" stroke-width="0" />
<line x1="253.1" y1="1837.6" x2="253.1" y2="1974.0" stroke="#111" stroke-width="1.4" />
<line x1="159.3" y1="1864.9" x2="346.8" y2="1864.9" stroke="#7a8281" stroke-width="1.4" />
<line x1="159.3" y1="1892.2" x2="346.8" y2="1892.2" stroke="#7a8281" stroke-width="1.4" />
<line x1="159.3" y1="1919.4" x2="346.8" y2="1919.4" stroke="#7a8281" stroke-width="1.4" />
<line x1="159.3" y1="1946.7" x2="346.8" y2="1946.7" stroke="#7a8281" stroke-width="1.4" />
<rect x="159.3" y="1837.6" width="187.5" height="136.4" stroke="#111" stroke-width="1.5" fill="none" />
<rect x="160.2" y="1947.6" width="93.3" height="26.4" stroke="none" stroke-width="0" fill="#fff" />
<line x1="253.5" y1="1947.0" x2="253.5" y2="1974.0" stroke="#111" stroke-width="1.4" />
<path d="M159.3,1879.8 C185,1892 220,1907 253.5,1918.3 C285,1928 315,1934 346.8,1937.6" stroke="#1f7a3f" stroke-width="2.2" fill="none" />
<text x="162.7" y="1959.9" font-size="6.5" font-weight="bold" textLength="88.0" lengthAdjust="spacingAndGlyphs" fill="#111">8.3 ms Single Half Sine Wave</text>
<text x="162.7" y="1968.6" font-size="6.5" font-weight="bold" textLength="49.0" lengthAdjust="spacingAndGlyphs" fill="#111">(JEDEC Method)</text>
<text x="163.5" y="1814.3" font-size="10" font-weight="bold" textLength="168.0" lengthAdjust="spacingAndGlyphs" fill="#111">Fig.5&#160; Maximum Non-Repetitive Peak</text>
<text x="191.4" y="1825.8" font-size="10" font-weight="bold" textLength="110.0" lengthAdjust="spacingAndGlyphs" fill="#111">Forward Surage Current</text>
<text x="155.0" y="1840.8" font-size="8.7" font-weight="bold" text-anchor="end" fill="#111">150</text>
<text x="155.0" y="1868.1" font-size="8.7" font-weight="bold" text-anchor="end" fill="#111">120</text>
<text x="155.0" y="1895.4" font-size="8.7" font-weight="bold" text-anchor="end" fill="#111">90</text>
<text x="155.0" y="1922.6" font-size="8.7" font-weight="bold" text-anchor="end" fill="#111">60</text>
<text x="155.0" y="1949.9" font-size="8.7" font-weight="bold" text-anchor="end" fill="#111">30</text>
<text x="155.0" y="1977.2" font-size="8.7" font-weight="bold" text-anchor="end" fill="#111">00</text>
<text x="159.3" y="1984.6" font-size="8.7" font-weight="bold" text-anchor="middle" fill="#111">1</text>
<text x="253.5" y="1984.6" font-size="8.7" font-weight="bold" text-anchor="middle" fill="#111">10</text>
<text x="346.8" y="1984.6" font-size="8.7" font-weight="bold" text-anchor="middle" fill="#111">100</text>
<text x="188.8" y="2001.3" font-size="10" textLength="116.6" lengthAdjust="spacing" fill="#111">Number of Cycles at 60Hz</text>
<text x="0" y="0" font-size="10" text-anchor="middle" fill="#111" transform="translate(126.5,1903.0) rotate(-90)" textLength="140.0" lengthAdjust="spacing">Peak Forward Surage Current (A)</text>
<line x1="496.6" y1="1837.8" x2="496.6" y2="1974.0" stroke="#4a514f" stroke-width="1.0" />
<line x1="504.9" y1="1837.8" x2="504.9" y2="1974.0" stroke="#8a9291" stroke-width="1.0" />
<line x1="510.8" y1="1837.8" x2="510.8" y2="1974.0" stroke="#8a9291" stroke-width="1.0" />
<line x1="515.4" y1="1837.8" x2="515.4" y2="1974.0" stroke="#8a9291" stroke-width="1.0" />
<line x1="519.1" y1="1837.8" x2="519.1" y2="1974.0" stroke="#8a9291" stroke-width="1.0" />
<line x1="522.3" y1="1837.8" x2="522.3" y2="1974.0" stroke="#8a9291" stroke-width="1.0" />
<line x1="525.0" y1="1837.8" x2="525.0" y2="1974.0" stroke="#8a9291" stroke-width="1.0" />
<line x1="527.4" y1="1837.8" x2="527.4" y2="1974.0" stroke="#8a9291" stroke-width="1.0" />
<line x1="543.8" y1="1837.8" x2="543.8" y2="1974.0" stroke="#4a514f" stroke-width="1.0" />
<line x1="552.1" y1="1837.8" x2="552.1" y2="1974.0" stroke="#8a9291" stroke-width="1.0" />
<line x1="558.0" y1="1837.8" x2="558.0" y2="1974.0" stroke="#8a9291" stroke-width="1.0" />
<line x1="562.5" y1="1837.8" x2="562.5" y2="1974.0" stroke="#8a9291" stroke-width="1.0" />
<line x1="566.3" y1="1837.8" x2="566.3" y2="1974.0" stroke="#8a9291" stroke-width="1.0" />
<line x1="569.4" y1="1837.8" x2="569.4" y2="1974.0" stroke="#8a9291" stroke-width="1.0" />
<line x1="572.2" y1="1837.8" x2="572.2" y2="1974.0" stroke="#8a9291" stroke-width="1.0" />
<line x1="574.6" y1="1837.8" x2="574.6" y2="1974.0" stroke="#8a9291" stroke-width="1.0" />
<line x1="591.0" y1="1837.8" x2="591.0" y2="1974.0" stroke="#4a514f" stroke-width="1.0" />
<line x1="599.3" y1="1837.8" x2="599.3" y2="1974.0" stroke="#8a9291" stroke-width="1.0" />
<line x1="605.2" y1="1837.8" x2="605.2" y2="1974.0" stroke="#8a9291" stroke-width="1.0" />
<line x1="609.7" y1="1837.8" x2="609.7" y2="1974.0" stroke="#8a9291" stroke-width="1.0" />
<line x1="613.5" y1="1837.8" x2="613.5" y2="1974.0" stroke="#8a9291" stroke-width="1.0" />
<line x1="616.6" y1="1837.8" x2="616.6" y2="1974.0" stroke="#8a9291" stroke-width="1.0" />
<line x1="619.4" y1="1837.8" x2="619.4" y2="1974.0" stroke="#8a9291" stroke-width="1.0" />
<line x1="621.8" y1="1837.8" x2="621.8" y2="1974.0" stroke="#8a9291" stroke-width="1.0" />
<line x1="638.1" y1="1837.8" x2="638.1" y2="1974.0" stroke="#4a514f" stroke-width="1.0" />
<line x1="646.4" y1="1837.8" x2="646.4" y2="1974.0" stroke="#8a9291" stroke-width="1.0" />
<line x1="652.3" y1="1837.8" x2="652.3" y2="1974.0" stroke="#8a9291" stroke-width="1.0" />
<line x1="656.9" y1="1837.8" x2="656.9" y2="1974.0" stroke="#8a9291" stroke-width="1.0" />
<line x1="660.6" y1="1837.8" x2="660.6" y2="1974.0" stroke="#8a9291" stroke-width="1.0" />
<line x1="663.8" y1="1837.8" x2="663.8" y2="1974.0" stroke="#8a9291" stroke-width="1.0" />
<line x1="666.5" y1="1837.8" x2="666.5" y2="1974.0" stroke="#8a9291" stroke-width="1.0" />
<line x1="668.9" y1="1837.8" x2="668.9" y2="1974.0" stroke="#8a9291" stroke-width="1.0" />
<line x1="529.6" y1="1837.8" x2="529.6" y2="1974.0" stroke="#1a1a1a" stroke-width="1.5" />
<line x1="576.8" y1="1837.8" x2="576.8" y2="1974.0" stroke="#1a1a1a" stroke-width="1.5" />
<line x1="623.9" y1="1837.8" x2="623.9" y2="1974.0" stroke="#1a1a1a" stroke-width="1.5" />
<line x1="482.4" y1="1953.5" x2="671.1" y2="1953.5" stroke="#4a514f" stroke-width="1.0" />
<line x1="482.4" y1="1941.5" x2="671.1" y2="1941.5" stroke="#4a514f" stroke-width="1.0" />
<line x1="482.4" y1="1933.0" x2="671.1" y2="1933.0" stroke="#8a9291" stroke-width="1.0" />
<line x1="482.4" y1="1926.4" x2="671.1" y2="1926.4" stroke="#4a514f" stroke-width="1.0" />
<line x1="482.4" y1="1921.0" x2="671.1" y2="1921.0" stroke="#8a9291" stroke-width="1.0" />
<line x1="482.4" y1="1916.4" x2="671.1" y2="1916.4" stroke="#4a514f" stroke-width="1.0" />
<line x1="482.4" y1="1912.5" x2="671.1" y2="1912.5" stroke="#8a9291" stroke-width="1.0" />
<line x1="482.4" y1="1909.0" x2="671.1" y2="1909.0" stroke="#8a9291" stroke-width="1.0" />
<line x1="482.4" y1="1885.4" x2="671.1" y2="1885.4" stroke="#4a514f" stroke-width="1.0" />
<line x1="482.4" y1="1873.4" x2="671.1" y2="1873.4" stroke="#4a514f" stroke-width="1.0" />
<line x1="482.4" y1="1864.9" x2="671.1" y2="1864.9" stroke="#8a9291" stroke-width="1.0" />
<line x1="482.4" y1="1858.3" x2="671.1" y2="1858.3" stroke="#4a514f" stroke-width="1.0" />
<line x1="482.4" y1="1852.9" x2="671.1" y2="1852.9" stroke="#8a9291" stroke-width="1.0" />
<line x1="482.4" y1="1848.3" x2="671.1" y2="1848.3" stroke="#4a514f" stroke-width="1.0" />
<line x1="482.4" y1="1844.4" x2="671.1" y2="1844.4" stroke="#8a9291" stroke-width="1.0" />
<line x1="482.4" y1="1840.9" x2="671.1" y2="1840.9" stroke="#8a9291" stroke-width="1.0" />
<line x1="482.4" y1="1905.9" x2="671.1" y2="1905.9" stroke="#6a706f" stroke-width="1.5" />
<rect x="482.4" y="1837.8" width="188.7" height="136.2" stroke="#111" stroke-width="1.5" fill="none" />
<path d="M481.4,1933.3 L528.5,1896.5 L571.3,1866.5 C590,1859 605,1856 622.7,1853.7 C640,1851 655,1849 671.1,1848.1" stroke="#1f7a3f" stroke-width="2.2" fill="none" />
<text x="471.5" y="1815.1" font-size="10" font-weight="bold" textLength="199.0" lengthAdjust="spacingAndGlyphs" fill="#111">Fig.5- Typical Transient Thermal Impedance</text>
<text x="475.8" y="1841.1" font-size="9.3" text-anchor="end" fill="#111">100</text>
<text x="475.8" y="1909.2" font-size="9.3" text-anchor="end" fill="#111">10</text>
<text x="475.8" y="1977.3" font-size="9.3" text-anchor="end" fill="#111">1</text>
<text x="484.0" y="1986.6" font-size="9.3" text-anchor="middle" fill="#111">0.01</text>
<text x="529.8" y="1986.6" font-size="9.3" text-anchor="middle" fill="#111">0.1</text>
<text x="575.6" y="1986.6" font-size="9.3" text-anchor="middle" fill="#111">1</text>
<text x="623.6" y="1986.6" font-size="9.3" text-anchor="middle" fill="#111">10</text>
<text x="670.7" y="1986.6" font-size="9.3" text-anchor="middle" fill="#111">100</text>
<text x="522.0" y="2003.6" font-size="10" textLength="105.0" lengthAdjust="spacing" fill="#111">t, Pulse Duration ( sec )</text>
<text x="0" y="0" font-size="10" text-anchor="middle" fill="#111" transform="translate(450.5,1903.5) rotate(-90)" textLength="174.5" lengthAdjust="spacing">Transient Thermal Impedance ( °C/W )</text>
<text x="121.4" y="2385.8" font-size="16.5" font-weight="bold" textLength="164.8" lengthAdjust="spacing" fill="#111">PACKAGE&#160; OUTLINE</text>
<text x="121.7" y="2410.2" font-size="13" font-weight="bold" textLength="267.9" lengthAdjust="spacing" fill="#111">Plastic surface mounted package; 2 leads</text>
<text x="591.1" y="2413.0" font-size="14" font-weight="bold" textLength="39.5" lengthAdjust="spacing" fill="#4b7373">SMAF</text>
<rect x="113.8" y="2425.5" width="566.6" height="494.9" stroke="#111" stroke-width="1.5" fill="none" />
<rect x="239.6" y="2519.3" width="137.0" height="4.8" stroke="#444" stroke-width="0.8" fill="#e2e2e2" rx="1"/>
<path d="M254.6,2521.5 L257.8,2494.5 Q258.3,2491.1 261.5,2491.1 L354.5,2491.5 Q357.7,2491.6 358.3,2494.5 L361.8,2521.5 Z" stroke="#222" stroke-width="1.2" fill="#a8a8a8" />
<line x1="256.0" y1="2522.4" x2="262.5" y2="2522.4" stroke="#222" stroke-width="1.5" />
<line x1="354.0" y1="2522.4" x2="361.0" y2="2522.4" stroke="#222" stroke-width="1.5" />
<line x1="254.8" y1="2468.3" x2="254.6" y2="2521.0" stroke="#333" stroke-width="0.9" />
<line x1="257.6" y1="2468.3" x2="255.6" y2="2521.0" stroke="#333" stroke-width="0.9" />
<path d="M237.3,2471.5 Q255.7,2464.5 274.2,2472" stroke="#444" stroke-width="0.8" fill="none" />
<path d="M273.9,2463.6 L270.6,2468 L274.0,2468" stroke="#333" stroke-width="0.8" fill="none" />
<text x="275.0" y="2468.1" font-size="8.7" font-weight="bold" textLength="51.0" lengthAdjust="spacingAndGlyphs" fill="#333">ALL ROUND</text>
<line x1="308.3" y1="2479.6" x2="308.3" y2="2531.0" stroke="#444" stroke-width="1.0" stroke-dasharray="2.2,1.3"/>
<line x1="201.5" y1="2518.8" x2="236.1" y2="2518.8" stroke="#222" stroke-width="0.9" />
<line x1="201.5" y1="2523.4" x2="236.1" y2="2523.4" stroke="#222" stroke-width="0.9" />
<line x1="210.3" y1="2501.5" x2="210.3" y2="2518.8" stroke="#222" stroke-width="0.7" />
<path d="M210.3,2518.8 L209.10000000000002,2515.6000000000004 L211.5,2515.6000000000004 Z" fill="#222"/>
<line x1="210.3" y1="2523.4" x2="210.3" y2="2538.4" stroke="#222" stroke-width="0.7" />
<path d="M210.3,2523.4 L209.10000000000002,2526.6 L211.5,2526.6 Z" fill="#222"/>
<text x="0" y="0" font-size="10" font-weight="bold" fill="#111" text-anchor="middle" transform="translate(199.4,2521.2) rotate(-90)">C</text>
<line x1="239.6" y1="2530.3" x2="239.6" y2="2556.9" stroke="#222" stroke-width="0.9" />
<line x1="376.1" y1="2530.4" x2="376.1" y2="2557.6" stroke="#222" stroke-width="0.9" />
<line x1="239.6" y1="2552.8" x2="300.0" y2="2552.8" stroke="#333" stroke-width="0.7" />
<line x1="316.5" y1="2552.8" x2="376.1" y2="2552.8" stroke="#333" stroke-width="0.7" />
<path d="M239.8,2552.8 L243.8,2551.5 L243.8,2554.1000000000004 Z" fill="#222"/>
<path d="M375.9,2552.8 L371.9,2551.5 L371.9,2554.1000000000004 Z" fill="#222"/>
<line x1="376.1" y1="2552.6" x2="398.0" y2="2552.6" stroke="#333" stroke-width="0.7" />
<path d="M376.3,2552.6 L380.3,2551.2999999999997 L380.3,2553.9 Z" fill="#222"/>
<text x="301.8" y="2556.6" font-size="10.5" fill="#222">H<tspan font-size="6.5" dy="1.2">E</tspan></text>
<rect x="398.0" y="2547.7" width="39.7" height="9.9" stroke="#222" stroke-width="0.9" fill="#fff" />
<line x1="407.5" y1="2547.7" x2="407.5" y2="2557.6" stroke="#222" stroke-width="0.8" />
<line x1="417.5" y1="2547.7" x2="417.5" y2="2557.6" stroke="#222" stroke-width="0.8" />
<line x1="428.0" y1="2547.7" x2="428.0" y2="2557.6" stroke="#222" stroke-width="0.8" />
<circle cx="402.8" cy="2552.6" r="2.2" fill="none" stroke="#222" stroke-width="0.7"/>
<line x1="400.0" y1="2552.6" x2="405.6" y2="2552.6" stroke="#222" stroke-width="0.6" />
<line x1="402.8" y1="2549.8" x2="402.8" y2="2555.4" stroke="#222" stroke-width="0.6" />
<text x="412.5" y="2555.3" font-size="6" text-anchor="middle" fill="#111">V</text>
<circle cx="422.7" cy="2552.6" r="3.4" fill="none" stroke="#222" stroke-width="0.8"/>
<text x="422.7" y="2555.0" font-size="5.5" text-anchor="middle" fill="#111">M</text>
<text x="433.0" y="2555.3" font-size="6" text-anchor="middle" fill="#111">A</text>
<line x1="362.3" y1="2491.4" x2="417.6" y2="2491.4" stroke="#222" stroke-width="0.9" />
<line x1="381.9" y1="2522.6" x2="417.6" y2="2522.6" stroke="#222" stroke-width="0.9" />
<line x1="410.2" y1="2491.4" x2="410.2" y2="2522.6" stroke="#222" stroke-width="0.7" />
<path d="M410.2,2491.6 L409.0,2495.1 L411.4,2495.1 Z" fill="#222"/>
<path d="M410.2,2522.4 L409.0,2518.9 L411.4,2518.9 Z" fill="#222"/>
<text x="0" y="0" font-size="10" fill="#222" text-anchor="middle" transform="translate(406.8,2507) rotate(-90)">A</text>
<path d="M494.8,2520 L497.3,2494.5 Q497.8,2491.2 501,2491.2 L565,2491.2 Q568,2491.2 568.5,2494.5 L571.3,2520 Q571.3,2522.3 569,2522.3 L497,2522.3 Q494.8,2522.3 494.8,2520 Z" stroke="#222" stroke-width="1.2" fill="#a8a8a8" />
<rect x="511.6" y="2518.9" width="43.1" height="4.8" rx="1.5" fill="#f2f2f2" stroke="#333" stroke-width="0.8"/>
<line x1="495.6" y1="2468.3" x2="495.0" y2="2520.0" stroke="#333" stroke-width="0.9" />
<line x1="497.6" y1="2468.3" x2="496.2" y2="2520.0" stroke="#333" stroke-width="0.9" />
<path d="M480,2470.3 Q497,2465.3 515,2472" stroke="#444" stroke-width="0.8" fill="none" />
<path d="M515.6,2463.1 L512.3,2467.5 L515.7,2467.5" stroke="#333" stroke-width="0.8" fill="none" />
<text x="516.6" y="2467.5" font-size="8.7" font-weight="bold" textLength="49.4" lengthAdjust="spacingAndGlyphs" fill="#333">ALL ROUND</text>
<line x1="533.0" y1="2480.8" x2="533.0" y2="2533.2" stroke="#444" stroke-width="1.0" stroke-dasharray="2.2,1.3"/>
<line x1="495.4" y1="2528.2" x2="495.4" y2="2556.9" stroke="#222" stroke-width="0.9" />
<line x1="570.9" y1="2528.2" x2="570.9" y2="2556.9" stroke="#222" stroke-width="0.9" />
<line x1="495.4" y1="2552.0" x2="527.5" y2="2552.0" stroke="#333" stroke-width="0.7" />
<line x1="541.0" y1="2552.0" x2="570.9" y2="2552.0" stroke="#333" stroke-width="0.7" />
<path d="M495.6,2552 L499.6,2550.7 L499.6,2553.3 Z" fill="#222"/>
<path d="M570.7,2552 L566.7,2550.7 L566.7,2553.3 Z" fill="#222"/>
<text x="534.2" y="2556.0" font-size="10" text-anchor="middle" fill="#222">E</text>
<rect x="239.5" y="2649.4" width="15.0" height="43.5" stroke="#444" stroke-width="0.9" fill="#e9e9e9" />
<rect x="361.4" y="2649.4" width="15.0" height="43.5" stroke="#444" stroke-width="0.9" fill="#e9e9e9" />
<rect x="254.9" y="2633.5" width="106.0" height="75.4" rx="4" fill="#c9c9c9" stroke="#222" stroke-width="1.6"/>
<rect x="257.0" y="2635.6" width="101.8" height="71.2" rx="3" fill="none" stroke="#333" stroke-width="0.8"/>
<line x1="224.7" y1="2670.8" x2="391.0" y2="2670.8" stroke="#333" stroke-width="0.9" stroke-dasharray="3,1.2,1,1.2"/>
<line x1="308.0" y1="2630.0" x2="308.0" y2="2713.7" stroke="#333" stroke-width="0.9" stroke-dasharray="3,1.2,1,1.2"/>
<line x1="254.4" y1="2610.0" x2="254.4" y2="2629.7" stroke="#222" stroke-width="0.9" />
<line x1="360.8" y1="2610.0" x2="360.8" y2="2629.7" stroke="#222" stroke-width="0.9" />
<line x1="254.4" y1="2613.8" x2="301.0" y2="2613.8" stroke="#333" stroke-width="0.7" />
<line x1="312.0" y1="2613.8" x2="360.8" y2="2613.8" stroke="#333" stroke-width="0.7" />
<path d="M254.6,2613.8 L258.6,2612.5 L258.6,2615.1000000000004 Z" fill="#222"/>
<path d="M360.6,2613.8 L356.6,2612.5 L356.6,2615.1000000000004 Z" fill="#222"/>
<text x="306.1" y="2618.0" font-size="10" text-anchor="middle" fill="#222">D</text>
<line x1="364.0" y1="2610.0" x2="364.0" y2="2618.0" stroke="#222" stroke-width="0.9" />
<line x1="364.0" y1="2613.8" x2="374.0" y2="2613.8" stroke="#333" stroke-width="0.7" />
<circle cx="378.2" cy="2613.8" r="4.0" fill="none" stroke="#222" stroke-width="0.9"/>
<text x="378.2" y="2616.6" font-size="7" text-anchor="middle" fill="#222">A</text>
<line x1="206.6" y1="2633.0" x2="244.5" y2="2633.0" stroke="#222" stroke-width="0.9" />
<line x1="206.6" y1="2708.7" x2="244.5" y2="2708.7" stroke="#222" stroke-width="0.9" />
<line x1="212.5" y1="2633.0" x2="212.5" y2="2664.0" stroke="#333" stroke-width="0.7" />
<line x1="212.5" y1="2677.0" x2="212.5" y2="2708.7" stroke="#333" stroke-width="0.7" />
<path d="M212.5,2633.2 L211.2,2637.2 L213.8,2637.2 Z" fill="#222"/>
<path d="M212.5,2708.5 L211.2,2704.5 L213.8,2704.5 Z" fill="#222"/>
<text x="0" y="0" font-size="9.5" fill="#222" text-anchor="middle" transform="translate(215.2,2670.8) rotate(-90)">E</text>
<text x="289.0" y="2726.9" font-size="9" textLength="35.5" lengthAdjust="spacing" fill="#111" stroke="#111" stroke-width="0.25">Top View</text>
<rect x="480.4" y="2633.4" width="105.6" height="75.0" rx="4" fill="#c9c9c9" stroke="#222" stroke-width="1.6"/>
<rect x="482.5" y="2635.5" width="101.4" height="70.8" rx="3" fill="none" stroke="#333" stroke-width="0.8"/>
<rect x="464.5" y="2649.4" width="27.3" height="43.5" stroke="#333" stroke-width="1.0" fill="#ebebeb" />
<rect x="574.2" y="2649.4" width="27.0" height="43.5" stroke="#333" stroke-width="1.0" fill="#ebebeb" />
<text x="0" y="0" font-size="7.5" font-weight="bold" fill="#111" text-anchor="middle" transform="translate(475.7,2671.2) rotate(90)">pad</text>
<text x="0" y="0" font-size="7.5" font-weight="bold" fill="#111" text-anchor="middle" transform="translate(585.2,2671.2) rotate(90)">pad</text>
<line x1="464.5" y1="2611.5" x2="464.5" y2="2646.0" stroke="#222" stroke-width="0.9" />
<line x1="491.8" y1="2611.5" x2="491.8" y2="2646.0" stroke="#222" stroke-width="0.9" />
<line x1="574.2" y1="2611.5" x2="574.2" y2="2646.0" stroke="#222" stroke-width="0.9" />
<line x1="601.2" y1="2611.5" x2="601.2" y2="2646.0" stroke="#222" stroke-width="0.9" />
<line x1="464.5" y1="2616.5" x2="491.8" y2="2616.5" stroke="#333" stroke-width="0.7" />
<path d="M464.7,2616.5 L468.7,2615.2 L468.7,2617.8 Z" fill="#222"/>
<path d="M491.6,2616.5 L487.6,2615.2 L487.6,2617.8 Z" fill="#222"/>
<line x1="574.2" y1="2616.5" x2="601.2" y2="2616.5" stroke="#333" stroke-width="0.7" />
<path d="M574.4,2616.5 L578.4,2615.2 L578.4,2617.8 Z" fill="#222"/>
<path d="M601.0,2616.5 L597.0,2615.2 L597.0,2617.8 Z" fill="#222"/>
<text x="478.6" y="2613.0" font-size="9.5" text-anchor="middle" fill="#222">g</text>
<text x="587.4" y="2613.0" font-size="9.5" text-anchor="middle" fill="#222">g</text>
<line x1="434.8" y1="2649.4" x2="458.9" y2="2649.4" stroke="#222" stroke-width="0.9" />
<line x1="434.8" y1="2692.9" x2="458.9" y2="2692.9" stroke="#222" stroke-width="0.9" />
<line x1="440.4" y1="2649.4" x2="440.4" y2="2692.9" stroke="#333" stroke-width="0.7" />
<path d="M440.4,2649.6 L439.09999999999997,2653.6 L441.7,2653.6 Z" fill="#222"/>
<path d="M440.4,2692.7 L439.09999999999997,2688.7 L441.7,2688.7 Z" fill="#222"/>
<text x="0" y="0" font-size="9.5" fill="#222" text-anchor="middle" transform="translate(435.5,2670.8) rotate(-90)">e</text>
<text x="509.0" y="2728.5" font-size="9" textLength="51.0" lengthAdjust="spacing" fill="#111" stroke="#111" stroke-width="0.25">Bottom&#160; View</text>
<rect x="170.0" y="2769.8" width="453.5" height="112.8" stroke="#111" stroke-width="1.5" fill="none" />
<line x1="170.0" y1="2792.3" x2="623.5" y2="2792.3" stroke="#222" stroke-width="1.2" />
<line x1="170.0" y1="2837.8" x2="578.2" y2="2837.8" stroke="#222" stroke-width="1.2" />
<line x1="215.3" y1="2815.0" x2="578.2" y2="2815.0" stroke="#333" stroke-width="1.0" />
<line x1="215.3" y1="2860.3" x2="578.2" y2="2860.3" stroke="#333" stroke-width="1.0" />
<line x1="215.3" y1="2769.8" x2="215.3" y2="2882.6" stroke="#222" stroke-width="1.2" />
<line x1="260.7" y1="2769.8" x2="260.7" y2="2882.6" stroke="#222" stroke-width="1.2" />
<line x1="306.1" y1="2769.8" x2="306.1" y2="2882.6" stroke="#222" stroke-width="1.0" />
<line x1="351.4" y1="2769.8" x2="351.4" y2="2882.6" stroke="#222" stroke-width="1.0" />
<line x1="396.8" y1="2769.8" x2="396.8" y2="2882.6" stroke="#222" stroke-width="1.0" />
<line x1="442.1" y1="2769.8" x2="442.1" y2="2882.6" stroke="#222" stroke-width="1.0" />
<line x1="487.4" y1="2769.8" x2="487.4" y2="2882.6" stroke="#222" stroke-width="1.0" />
<line x1="532.8" y1="2769.8" x2="532.8" y2="2882.6" stroke="#222" stroke-width="1.0" />
<line x1="578.2" y1="2769.8" x2="578.2" y2="2882.6" stroke="#222" stroke-width="1.2" />
<text x="192.7" y="2785.5" font-size="12" text-anchor="middle" fill="#111" letter-spacing="0.5">UNIT</text>
<text x="283.4" y="2785.5" font-size="12" text-anchor="middle" fill="#111">A</text>
<text x="328.7" y="2785.5" font-size="12" text-anchor="middle" fill="#111">C</text>
<text x="374.1" y="2785.5" font-size="12" text-anchor="middle" fill="#111">D</text>
<text x="419.4" y="2785.5" font-size="12" text-anchor="middle" fill="#111">E</text>
<text x="464.8" y="2785.5" font-size="12" text-anchor="middle" fill="#111">e</text>
<text x="510.1" y="2785.5" font-size="12" text-anchor="middle" fill="#111">g</text>
<text x="554.5" y="2785.5" font-size="10" fill="#111" text-anchor="middle">H<tspan font-size="6.5" dy="1">E</tspan></text>
<path d="M603.3,2776.5 L597.8,2783.5 L604.3,2783.5" stroke="#333" stroke-width="0.8" fill="none" />
<text x="238.0" y="2807.9" font-size="11.5" text-anchor="middle" fill="#111" letter-spacing="0.5">max</text>
<text x="283.4" y="2807.9" font-size="11.5" text-anchor="middle" fill="#111" letter-spacing="0.5">1.2</text>
<text x="328.7" y="2807.9" font-size="11.5" text-anchor="middle" fill="#111" letter-spacing="0.5">0.20</text>
<text x="374.1" y="2807.9" font-size="11.5" text-anchor="middle" fill="#111" letter-spacing="0.5">3.7</text>
<text x="419.4" y="2807.9" font-size="11.5" text-anchor="middle" fill="#111" letter-spacing="0.5">2.7</text>
<text x="464.8" y="2807.9" font-size="11.5" text-anchor="middle" fill="#111" letter-spacing="0.5">1.6</text>
<text x="510.1" y="2807.9" font-size="11.5" text-anchor="middle" fill="#111" letter-spacing="0.5">1.2</text>
<text x="555.5" y="2807.9" font-size="11.5" text-anchor="middle" fill="#111" letter-spacing="0.5">4.9</text>
<text x="238.0" y="2829.8" font-size="11.5" text-anchor="middle" fill="#111" letter-spacing="0.5">min</text>
<text x="283.4" y="2829.8" font-size="11.5" text-anchor="middle" fill="#111" letter-spacing="0.5">0.9</text>
<text x="328.7" y="2829.8" font-size="11.5" text-anchor="middle" fill="#111" letter-spacing="0.5">0.12</text>
<text x="374.1" y="2829.8" font-size="11.5" text-anchor="middle" fill="#111" letter-spacing="0.5">3.3</text>
<text x="419.4" y="2829.8" font-size="11.5" text-anchor="middle" fill="#111" letter-spacing="0.5">2.4</text>
<text x="464.8" y="2829.8" font-size="11.5" text-anchor="middle" fill="#111" letter-spacing="0.5">1.3</text>
<text x="510.1" y="2829.8" font-size="11.5" text-anchor="middle" fill="#111" letter-spacing="0.5">0.8</text>
<text x="555.5" y="2829.8" font-size="11.5" text-anchor="middle" fill="#111" letter-spacing="0.5">4.4</text>
<text x="238.0" y="2852.4" font-size="11.5" text-anchor="middle" fill="#111" letter-spacing="0.5">max</text>
<text x="283.4" y="2852.4" font-size="11.5" text-anchor="middle" fill="#111" letter-spacing="0.5">47</text>
<text x="328.7" y="2852.4" font-size="11.5" text-anchor="middle" fill="#111" letter-spacing="0.5">7.9</text>
<text x="374.1" y="2852.4" font-size="11.5" text-anchor="middle" fill="#111" letter-spacing="0.5">146</text>
<text x="419.4" y="2852.4" font-size="11.5" text-anchor="middle" fill="#111" letter-spacing="0.5">106</text>
<text x="464.8" y="2852.4" font-size="11.5" text-anchor="middle" fill="#111" letter-spacing="0.5">63</text>
<text x="510.1" y="2852.4" font-size="11.5" text-anchor="middle" fill="#111" letter-spacing="0.5">47</text>
<text x="555.5" y="2852.4" font-size="11.5" text-anchor="middle" fill="#111" letter-spacing="0.5">193</text>
<text x="238.0" y="2874.4" font-size="11.5" text-anchor="middle" fill="#111" letter-spacing="0.5">min</text>
<text x="283.4" y="2874.4" font-size="11.5" text-anchor="middle" fill="#111" letter-spacing="0.5">35</text>
<text x="328.7" y="2874.4" font-size="11.5" text-anchor="middle" fill="#111" letter-spacing="0.5">4.7</text>
<text x="374.1" y="2874.4" font-size="11.5" text-anchor="middle" fill="#111" letter-spacing="0.5">130</text>
<text x="419.4" y="2874.4" font-size="11.5" text-anchor="middle" fill="#111" letter-spacing="0.5">94</text>
<text x="464.8" y="2874.4" font-size="11.5" text-anchor="middle" fill="#111" letter-spacing="0.5">51</text>
<text x="510.1" y="2874.4" font-size="11.5" text-anchor="middle" fill="#111" letter-spacing="0.5">31</text>
<text x="555.5" y="2874.4" font-size="11.5" text-anchor="middle" fill="#111" letter-spacing="0.5">173</text>
<text x="192.7" y="2817.8" font-size="11.5" text-anchor="middle" fill="#111" letter-spacing="0.5">mm</text>
<text x="192.7" y="2862.3" font-size="11.5" text-anchor="middle" fill="#111" letter-spacing="0.5">mil</text>
<text x="600.8" y="2841.7" font-size="11.5" text-anchor="middle" fill="#111">7°</text>
<text x="121.5" y="2996.2" font-size="13.3" font-weight="bold" textLength="241.0" lengthAdjust="spacing" fill="#111">The recommended mounting pad size</text>
<rect x="112.6" y="3014.4" width="321.2" height="155.8" stroke="#111" stroke-width="1.5" fill="none" />
<path d="M172.3,3075.2 L219.0,3075.2 L225.8,3082.0 L225.8,3137.2 L219.0,3144 L172.3,3144 L165.3,3137.2 L165.3,3082.0 Z" stroke="#222" stroke-width="1.1" fill="#d4d4d4" />
<rect x="308.5" y="3075.2" width="60.9" height="68.8" stroke="#222" stroke-width="1.1" fill="#d4d4d4" />
<line x1="148.0" y1="3108.6" x2="379.2" y2="3108.6" stroke="#222" stroke-width="1.0" stroke-dasharray="2,1.2"/>
<line x1="165.3" y1="3044.2" x2="165.3" y2="3068.6" stroke="#222" stroke-width="1.3" />
<line x1="225.8" y1="3044.2" x2="225.8" y2="3068.6" stroke="#222" stroke-width="1.3" />
<line x1="308.5" y1="3044.2" x2="308.5" y2="3068.6" stroke="#222" stroke-width="1.3" />
<line x1="369.4" y1="3044.2" x2="369.4" y2="3068.6" stroke="#222" stroke-width="1.3" />
<line x1="165.3" y1="3048.3" x2="369.4" y2="3048.3" stroke="#222" stroke-width="0.9" />
<path d="M165.9,3048.3 L170.9,3046.7000000000003 L170.9,3049.9 Z" fill="#222"/>
<path d="M225.20000000000002,3048.3 L220.20000000000002,3046.7000000000003 L220.20000000000002,3049.9 Z" fill="#222"/>
<path d="M226.4,3048.3 L231.4,3046.7000000000003 L231.4,3049.9 Z" fill="#222"/>
<path d="M307.9,3048.3 L302.9,3046.7000000000003 L302.9,3049.9 Z" fill="#222"/>
<path d="M309.1,3048.3 L314.1,3046.7000000000003 L314.1,3049.9 Z" fill="#222"/>
<path d="M368.79999999999995,3048.3 L363.79999999999995,3046.7000000000003 L363.79999999999995,3049.9 Z" fill="#222"/>
<text x="194.5" y="3044.9" font-size="9" text-anchor="middle" fill="#111">1.6</text>
<text x="194.5" y="3056.0" font-size="9" text-anchor="middle" fill="#111">(63)</text>
<text x="267.1" y="3044.9" font-size="9" text-anchor="middle" fill="#111">2.2</text>
<text x="267.1" y="3056.0" font-size="9" text-anchor="middle" fill="#111">(86)</text>
<text x="338.9" y="3044.9" font-size="9" text-anchor="middle" fill="#111">1.6</text>
<text x="338.9" y="3056.0" font-size="9" text-anchor="middle" fill="#111">(63)</text>
<line x1="371.0" y1="3075.2" x2="403.6" y2="3075.2" stroke="#222" stroke-width="1.1" />
<line x1="377.0" y1="3143.6" x2="401.2" y2="3143.6" stroke="#222" stroke-width="1.1" />
<line x1="397.6" y1="3075.2" x2="397.6" y2="3143.6" stroke="#222" stroke-width="0.9" />
<path d="M397.6,3075.8 L396.0,3080.8 L399.20000000000005,3080.8 Z" fill="#222"/>
<path d="M397.6,3143.0 L396.0,3138.0 L399.20000000000005,3138.0 Z" fill="#222"/>
<text x="0" y="0" font-size="9" fill="#111" text-anchor="middle" transform="translate(391.8,3108.8) rotate(-90)">1.8</text>
<text x="0" y="0" font-size="9" fill="#111" text-anchor="middle" transform="translate(405.6,3108.8) rotate(-90)">(71)</text>
<text x="383.0" y="3158.7" font-size="8.5" textLength="19.0" lengthAdjust="spacing" fill="#111" stroke="#111" stroke-width="0.2">Unit :</text>
<text x="414.8" y="3153.8" font-size="7.5" text-anchor="middle" fill="#111" stroke="#111" stroke-width="0.2">mm</text>
<line x1="406.0" y1="3155.6" x2="425.0" y2="3155.6" stroke="#222" stroke-width="0.8" />
<text x="415.6" y="3164.5" font-size="8" text-anchor="middle" fill="#111" stroke="#111" stroke-width="0.2">(mil)</text>
<text x="492.1" y="2998.4" font-size="14" font-weight="bold" textLength="52.5" lengthAdjust="spacing" fill="#111">Marking</text>
<rect x="491.4" y="3014.3" width="189.3" height="42.2" stroke="#111" stroke-width="1.4" fill="none" />
<line x1="491.4" y1="3037.5" x2="680.7" y2="3037.5" stroke="#222" stroke-width="1.1" />
<line x1="586.2" y1="3014.3" x2="586.2" y2="3056.5" stroke="#222" stroke-width="1.1" />
<text x="509.4" y="3028.8" font-size="10.5" textLength="66.8" lengthAdjust="spacing" fill="#111">Type number</text>
<text x="595.9" y="3028.8" font-size="10.5" textLength="69.9" lengthAdjust="spacing" fill="#111">Marking code</text>
<text x="518.8" y="3050.6" font-size="10" textLength="43.2" lengthAdjust="spacing" fill="#111">SSL310F</text>
<text x="620.1" y="3050.6" font-size="10" textLength="29.4" lengthAdjust="spacing" fill="#111">SL310</text>
</svg></body></html>
